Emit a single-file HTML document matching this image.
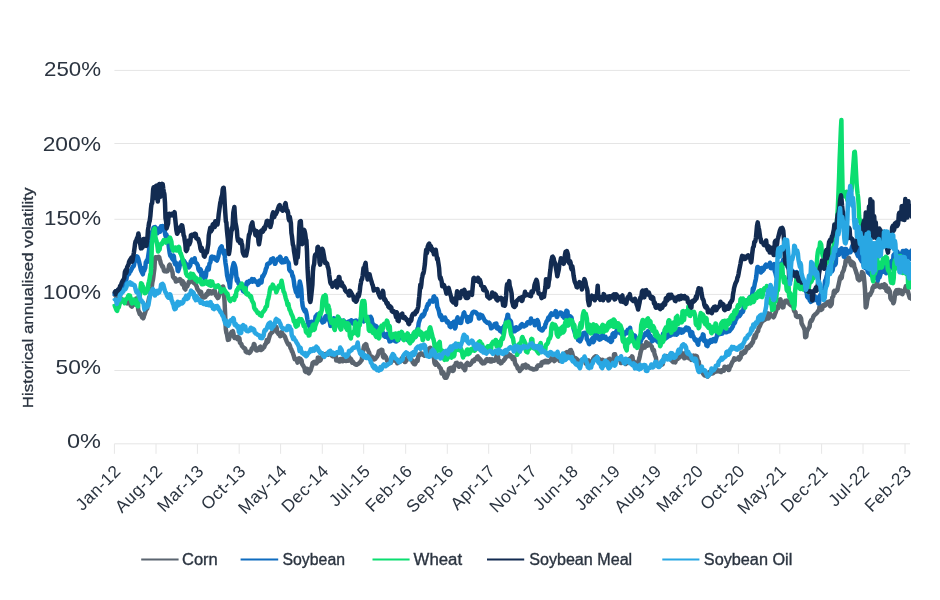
<!DOCTYPE html>
<html><head><meta charset="utf-8"><title>Historical annualised volatility</title>
<style>
html,body{margin:0;padding:0;background:#fff;}
body{width:940px;height:600px;overflow:hidden;font-family:"Liberation Sans",sans-serif;}
svg{display:block;transform:translateZ(0);will-change:transform}
text{font-family:"Liberation Sans",sans-serif;fill:#2b3440;}
.yl{font-size:20.4px;text-anchor:end;}
.xl{font-size:17.3px;text-anchor:end;letter-spacing:0.5px;}
.lg{font-size:16px;stroke:#2b3440;stroke-width:0.35px;}
.yt{font-size:15px;text-anchor:middle;stroke:#2b3440;stroke-width:0.3px;}
.s{fill:none;stroke-width:4.5;stroke-linejoin:round;stroke-linecap:butt;}
</style></head><body>
<svg width="940" height="600" viewBox="0 0 940 600">
<rect width="940" height="600" fill="#ffffff"/>

<line x1="114.4" x2="910" y1="70.4" y2="70.4" stroke="#e5e5e5" stroke-width="1"/>
<text class="yl" x="101.0" y="76.0" textLength="57" lengthAdjust="spacingAndGlyphs">250%</text>
<line x1="114.4" x2="910" y1="143.5" y2="143.5" stroke="#e5e5e5" stroke-width="1"/>
<text class="yl" x="101.0" y="150.5" textLength="58.3" lengthAdjust="spacingAndGlyphs">200%</text>
<line x1="114.4" x2="910" y1="219.3" y2="219.3" stroke="#e5e5e5" stroke-width="1"/>
<text class="yl" x="101.0" y="224.9" textLength="57" lengthAdjust="spacingAndGlyphs">150%</text>
<line x1="114.4" x2="910" y1="294.4" y2="294.4" stroke="#e5e5e5" stroke-width="1"/>
<text class="yl" x="101.0" y="299.4" textLength="58.3" lengthAdjust="spacingAndGlyphs">100%</text>
<line x1="114.4" x2="910" y1="370.5" y2="370.5" stroke="#e5e5e5" stroke-width="1"/>
<text class="yl" x="101.0" y="373.8" textLength="45.5" lengthAdjust="spacingAndGlyphs">50%</text>
<line x1="114.4" x2="910" y1="443.8" y2="443.8" stroke="#e5e5e5" stroke-width="1"/>
<text class="yl" x="101.0" y="448.3" textLength="34" lengthAdjust="spacingAndGlyphs">0%</text>
<line x1="114.4" x2="114.4" y1="443.8" y2="453.8" stroke="#e6e6e6" stroke-width="1"/>
<text class="xl" transform="translate(122.0,472.1) rotate(-45)">Jan-12</text>
<line x1="156.0" x2="156.0" y1="443.8" y2="453.8" stroke="#e6e6e6" stroke-width="1"/>
<text class="xl" transform="translate(163.6,472.1) rotate(-45)">Aug-12</text>
<line x1="197.4" x2="197.4" y1="443.8" y2="453.8" stroke="#e6e6e6" stroke-width="1"/>
<text class="xl" transform="translate(205.0,472.1) rotate(-45)">Mar-13</text>
<line x1="239.2" x2="239.2" y1="443.8" y2="453.8" stroke="#e6e6e6" stroke-width="1"/>
<text class="xl" transform="translate(246.8,472.1) rotate(-45)">Oct-13</text>
<line x1="280.6" x2="280.6" y1="443.8" y2="453.8" stroke="#e6e6e6" stroke-width="1"/>
<text class="xl" transform="translate(288.2,472.1) rotate(-45)">May-14</text>
<line x1="322.3" x2="322.3" y1="443.8" y2="453.8" stroke="#e6e6e6" stroke-width="1"/>
<text class="xl" transform="translate(329.9,472.1) rotate(-45)">Dec-14</text>
<line x1="363.7" x2="363.7" y1="443.8" y2="453.8" stroke="#e6e6e6" stroke-width="1"/>
<text class="xl" transform="translate(371.3,472.1) rotate(-45)">Jul-15</text>
<line x1="405.7" x2="405.7" y1="443.8" y2="453.8" stroke="#e6e6e6" stroke-width="1"/>
<text class="xl" transform="translate(413.3,472.1) rotate(-45)">Feb-16</text>
<line x1="447.3" x2="447.3" y1="443.8" y2="453.8" stroke="#e6e6e6" stroke-width="1"/>
<text class="xl" transform="translate(454.9,472.1) rotate(-45)">Sep-16</text>
<line x1="488.7" x2="488.7" y1="443.8" y2="453.8" stroke="#e6e6e6" stroke-width="1"/>
<text class="xl" transform="translate(496.3,472.1) rotate(-45)">Apr-17</text>
<line x1="530.5" x2="530.5" y1="443.8" y2="453.8" stroke="#e6e6e6" stroke-width="1"/>
<text class="xl" transform="translate(538.1,472.1) rotate(-45)">Nov-17</text>
<line x1="571.9" x2="571.9" y1="443.8" y2="453.8" stroke="#e6e6e6" stroke-width="1"/>
<text class="xl" transform="translate(579.5,472.1) rotate(-45)">Jun-18</text>
<line x1="613.7" x2="613.7" y1="443.8" y2="453.8" stroke="#e6e6e6" stroke-width="1"/>
<text class="xl" transform="translate(621.3,472.1) rotate(-45)">Jan-19</text>
<line x1="655.1" x2="655.1" y1="443.8" y2="453.8" stroke="#e6e6e6" stroke-width="1"/>
<text class="xl" transform="translate(662.7,472.1) rotate(-45)">Aug-19</text>
<line x1="696.7" x2="696.7" y1="443.8" y2="453.8" stroke="#e6e6e6" stroke-width="1"/>
<text class="xl" transform="translate(704.3,472.1) rotate(-45)">Mar-20</text>
<line x1="738.4" x2="738.4" y1="443.8" y2="453.8" stroke="#e6e6e6" stroke-width="1"/>
<text class="xl" transform="translate(746.0,472.1) rotate(-45)">Oct-20</text>
<line x1="779.8" x2="779.8" y1="443.8" y2="453.8" stroke="#e6e6e6" stroke-width="1"/>
<text class="xl" transform="translate(787.4,472.1) rotate(-45)">May-21</text>
<line x1="821.6" x2="821.6" y1="443.8" y2="453.8" stroke="#e6e6e6" stroke-width="1"/>
<text class="xl" transform="translate(829.2,472.1) rotate(-45)">Dec-21</text>
<line x1="863.0" x2="863.0" y1="443.8" y2="453.8" stroke="#e6e6e6" stroke-width="1"/>
<text class="xl" transform="translate(870.6,472.1) rotate(-45)">Jul-22</text>
<line x1="905.0" x2="905.0" y1="443.8" y2="453.8" stroke="#e6e6e6" stroke-width="1"/>
<text class="xl" transform="translate(912.6,472.1) rotate(-45)">Feb-23</text>
<text class="yt" transform="translate(33.2,297.9) rotate(-90)" textLength="220.5" lengthAdjust="spacingAndGlyphs">Historical annualised volatility</text>
<defs><clipPath id="c"><rect x="112.4" y="60" width="798.6" height="390"/></clipPath></defs>
<g clip-path="url(#c)">
<path class="s" stroke="#5b6570" d="M114.0,294.0 L114.7,294.7 L115.3,295.1 L115.9,296.2 L116.6,296.6 L117.1,295.2 L117.7,295.5 L118.2,295.7 L119.0,295.8 L119.8,295.4 L120.3,297.9 L120.8,298.1 L121.3,300.7 L121.9,300.9 L122.4,301.2 L122.9,299.7 L123.4,299.9 L123.9,300.2 L124.4,300.4 L125.0,301.7 L125.7,302.0 L126.3,302.7 L127.0,303.3 L127.5,301.6 L128.0,302.1 L128.5,302.6 L129.0,303.1 L129.6,303.2 L130.3,303.9 L130.8,305.6 L131.4,306.2 L131.9,306.7 L132.4,304.6 L132.9,305.1 L133.7,303.1 L134.2,304.7 L134.7,303.9 L135.2,303.1 L135.7,302.2 L136.2,298.5 L136.7,299.9 L137.2,301.2 L137.7,302.5 L138.2,309.8 L138.7,311.1 L139.2,312.5 L139.7,314.0 L140.3,313.2 L141.0,315.2 L141.5,315.9 L142.0,317.4 L142.5,317.4 L143.1,318.3 L143.6,317.5 L144.1,315.5 L144.6,314.3 L145.1,312.8 L145.6,311.2 L146.4,307.7 L147.2,308.8 L147.7,305.0 L148.2,302.5 L148.7,300.0 L149.2,297.5 L149.7,296.9 L150.2,294.4 L151.0,289.5 L151.8,287.1 L152.3,282.6 L152.9,280.0 L153.4,276.4 L153.9,272.3 L154.4,268.7 L154.9,259.3 L155.4,257.3 L155.9,257.3 L156.4,257.3 L156.9,258.2 L157.5,258.2 L158.0,258.2 L158.7,256.8 L159.3,257.4 L159.8,260.1 L160.3,261.1 L160.8,263.5 L161.3,264.5 L161.8,265.5 L162.3,266.8 L162.8,266.2 L163.3,267.7 L164.0,270.7 L164.6,271.2 L165.1,270.4 L165.6,270.7 L166.1,271.0 L166.6,271.4 L167.4,271.2 L167.9,270.2 L168.4,269.7 L169.1,265.4 L169.7,264.7 L170.5,267.3 L171.0,267.9 L171.5,269.4 L172.0,270.9 L172.5,272.4 L173.0,276.7 L173.5,277.4 L174.0,278.0 L174.5,278.7 L175.3,278.4 L175.8,281.5 L176.4,281.3 L176.9,280.8 L177.4,280.7 L177.9,280.2 L178.4,280.7 L178.9,280.2 L179.4,279.7 L179.9,279.2 L180.6,279.7 L181.2,281.0 L181.7,283.3 L182.2,284.3 L182.7,281.3 L183.3,282.2 L183.8,282.9 L184.3,288.1 L184.9,288.8 L185.4,289.5 L185.9,285.2 L186.4,285.3 L187.2,286.4 L187.7,285.1 L188.3,283.5 L188.8,281.9 L189.6,282.5 L190.3,277.9 L190.9,276.6 L191.6,276.8 L192.2,277.6 L192.7,281.6 L193.3,282.3 L193.8,283.0 L194.3,282.2 L194.9,283.3 L195.4,284.3 L196.1,285.3 L196.7,286.6 L197.4,289.0 L198.0,289.9 L198.5,290.4 L199.0,291.1 L199.7,292.9 L200.3,293.9 L201.1,291.8 L201.8,295.8 L202.4,297.1 L202.9,297.4 L203.5,297.2 L204.0,296.8 L204.5,297.5 L205.1,297.1 L205.6,296.8 L206.1,294.5 L206.6,293.8 L207.1,294.9 L207.6,294.2 L208.4,291.0 L209.2,293.6 L210.0,291.2 L210.5,292.0 L211.1,292.7 L211.6,293.4 L212.1,291.7 L212.6,291.4 L213.1,291.3 L213.6,290.9 L214.1,290.6 L214.6,290.3 L215.4,293.6 L215.9,295.3 L216.5,296.0 L217.0,296.7 L217.7,298.1 L218.3,297.8 L218.8,296.3 L219.4,294.9 L219.9,293.4 L220.4,291.5 L221.0,290.0 L221.5,288.4 L222.0,288.2 L222.6,286.6 L223.1,286.5 L223.6,289.2 L224.1,294.9 L224.6,302.7 L225.1,313.5 L225.8,329.1 L226.4,332.9 L226.9,334.0 L227.4,337.0 L227.9,339.9 L228.4,338.9 L228.9,339.7 L229.4,337.7 L229.9,335.7 L230.4,334.5 L231.2,332.7 L231.7,331.8 L232.2,332.0 L232.9,331.2 L233.5,333.8 L234.0,337.0 L234.5,337.9 L235.2,336.8 L235.8,337.9 L236.3,337.5 L236.9,338.4 L237.4,339.0 L237.9,336.8 L238.4,337.3 L238.9,337.8 L239.4,338.3 L239.9,342.6 L240.4,343.1 L240.9,343.6 L241.4,344.1 L241.9,346.0 L242.4,346.5 L242.9,347.0 L243.4,347.4 L244.2,348.5 L244.7,348.3 L245.2,348.6 L245.7,351.5 L246.2,351.9 L246.7,352.2 L247.2,352.5 L247.7,351.6 L248.3,352.0 L248.8,352.3 L249.3,353.0 L249.9,352.5 L250.4,352.0 L251.2,350.5 L251.7,348.6 L252.2,348.1 L252.7,347.6 L253.2,347.1 L253.9,344.0 L254.5,344.5 L255.0,348.6 L255.5,349.3 L256.0,350.0 L256.5,350.6 L257.2,350.6 L257.8,349.9 L258.3,348.5 L258.8,348.0 L259.3,347.6 L259.9,347.1 L260.4,346.7 L260.9,350.1 L261.4,349.8 L261.9,349.4 L262.4,349.1 L262.9,348.2 L263.4,347.8 L263.9,347.3 L264.4,346.8 L264.9,344.8 L265.5,344.2 L266.0,343.7 L266.8,340.1 L267.5,342.1 L268.1,341.3 L268.9,338.5 L269.6,336.2 L270.2,334.3 L271.0,333.4 L271.5,332.7 L272.1,332.3 L272.6,332.0 L273.1,327.5 L273.6,327.1 L274.1,326.8 L274.6,326.5 L275.1,328.9 L275.6,328.6 L276.1,326.9 L276.6,327.6 L277.1,332.1 L277.6,332.8 L278.1,333.4 L278.6,334.1 L279.1,334.4 L279.6,334.3 L280.1,336.2 L280.6,336.1 L281.1,332.3 L281.6,332.1 L282.1,333.1 L282.7,334.0 L283.2,334.9 L283.7,335.1 L284.2,335.9 L284.7,336.4 L285.2,337.3 L285.7,339.1 L286.2,340.1 L286.7,341.4 L287.2,342.4 L287.7,343.4 L288.2,344.3 L289.0,343.9 L289.8,345.3 L290.6,348.3 L291.3,349.3 L291.9,351.2 L292.4,351.8 L292.9,353.3 L293.4,354.8 L293.9,356.3 L294.7,359.2 L295.2,358.5 L295.7,359.0 L296.2,359.5 L296.7,360.0 L297.5,362.6 L298.2,358.6 L298.8,358.4 L299.6,361.5 L300.1,358.6 L300.6,359.3 L301.1,359.9 L301.6,360.6 L302.1,364.1 L302.7,364.9 L303.2,365.6 L303.9,366.9 L304.5,367.8 L305.0,371.1 L305.5,371.8 L306.0,370.0 L306.5,370.5 L307.2,368.8 L307.8,369.5 L308.3,372.9 L308.8,373.4 L309.3,372.8 L309.8,371.5 L310.5,370.7 L311.1,368.9 L311.6,367.0 L312.1,365.8 L312.6,362.9 L313.1,362.6 L313.6,362.2 L314.1,361.9 L314.6,363.2 L315.2,362.8 L315.7,362.1 L316.2,363.5 L316.8,362.8 L317.3,362.1 L317.8,357.7 L318.3,357.5 L318.8,360.9 L319.3,361.0 L320.0,359.9 L320.6,360.1 L321.3,358.1 L321.9,357.0 L322.4,355.9 L323.0,355.0 L323.5,354.1 L324.0,355.0 L324.5,354.7 L325.0,354.3 L325.5,354.0 L326.0,354.1 L326.6,353.7 L327.1,353.5 L327.6,353.9 L328.1,354.6 L328.8,352.7 L329.4,353.5 L329.9,353.7 L330.4,354.1 L330.9,354.3 L331.4,354.6 L332.1,356.0 L332.7,356.3 L333.2,355.0 L333.7,355.2 L334.2,354.8 L334.7,354.8 L335.2,354.8 L335.7,354.8 L336.2,360.5 L336.8,360.5 L337.3,360.5 L337.8,359.5 L338.3,359.6 L339.0,361.3 L339.6,361.5 L340.3,358.9 L340.9,359.0 L341.4,360.9 L342.0,361.1 L342.5,361.2 L343.0,358.4 L343.5,358.5 L344.0,358.6 L344.5,358.8 L345.0,360.8 L345.5,360.9 L346.0,361.0 L346.5,360.9 L347.3,356.3 L348.0,360.7 L348.6,360.6 L349.4,357.3 L349.9,358.6 L350.4,359.0 L351.2,359.2 L352.0,362.6 L352.5,361.3 L353.0,361.8 L353.5,362.8 L354.0,363.1 L354.5,363.8 L355.0,364.1 L355.5,364.4 L356.0,364.8 L356.8,364.7 L357.3,364.1 L357.9,363.9 L358.4,363.7 L358.9,363.3 L359.4,362.9 L359.9,362.4 L360.4,361.9 L361.1,360.8 L361.7,360.2 L362.2,356.2 L362.8,353.0 L363.3,349.8 L363.8,346.9 L364.3,345.4 L364.8,345.2 L365.3,344.7 L365.8,344.2 L366.3,344.6 L367.1,348.7 L367.8,349.4 L368.4,351.1 L368.9,351.9 L369.4,353.4 L369.9,356.5 L370.5,357.1 L371.0,357.7 L371.7,356.5 L372.3,357.1 L372.8,358.4 L373.4,358.9 L373.9,359.5 L374.4,359.5 L375.0,359.1 L375.5,358.7 L376.0,357.4 L376.5,357.1 L377.0,356.8 L377.5,355.8 L378.3,353.9 L378.8,351.4 L379.3,350.9 L379.8,350.8 L380.3,350.6 L380.8,350.1 L381.3,349.9 L381.8,349.7 L382.3,350.1 L383.0,356.5 L383.6,357.4 L384.1,354.8 L384.6,355.5 L385.3,356.4 L385.9,357.0 L386.7,359.0 L387.2,360.9 L387.7,361.4 L388.2,361.8 L388.7,361.9 L389.5,363.2 L390.2,362.5 L390.8,362.7 L391.3,358.6 L391.8,358.7 L392.3,358.7 L392.8,358.6 L393.6,359.6 L394.3,360.5 L394.9,360.4 L395.4,360.8 L396.0,360.6 L396.5,361.0 L397.3,363.3 L397.8,361.1 L398.4,361.5 L398.9,361.9 L399.4,361.1 L399.9,361.5 L400.4,361.4 L400.9,361.3 L401.6,358.5 L402.2,358.3 L402.7,360.0 L403.2,359.9 L403.7,359.7 L404.2,359.6 L404.9,362.0 L405.5,361.7 L406.0,360.6 L406.5,360.4 L407.0,358.3 L407.5,358.1 L408.0,356.6 L408.5,356.9 L409.0,355.3 L409.5,355.6 L410.3,357.8 L410.8,359.1 L411.3,359.3 L412.1,360.3 L412.8,362.5 L413.4,362.7 L413.9,364.0 L414.5,364.1 L415.0,364.3 L415.8,362.7 L416.3,360.5 L416.8,360.0 L417.6,360.8 L418.3,356.2 L418.9,354.5 L419.4,355.3 L420.0,354.0 L420.5,354.1 L421.0,353.4 L421.5,353.6 L422.0,353.8 L422.5,353.9 L423.0,354.7 L423.5,355.0 L424.0,355.3 L424.5,355.7 L425.0,354.4 L425.5,354.7 L426.0,355.1 L426.5,353.6 L427.3,350.8 L428.0,351.1 L428.6,349.1 L429.1,349.6 L429.7,348.0 L430.2,347.8 L430.9,348.2 L431.5,350.8 L432.0,354.0 L432.6,355.4 L433.1,356.8 L433.9,357.4 L434.4,362.6 L435.0,364.0 L435.5,364.7 L436.0,362.3 L436.5,363.0 L437.0,363.7 L437.5,364.3 L438.2,365.2 L438.8,365.8 L439.3,367.2 L439.8,367.7 L440.3,368.2 L440.8,368.7 L441.6,373.4 L442.1,371.3 L442.6,371.8 L443.1,372.3 L443.6,372.8 L444.3,376.7 L444.9,377.7 L445.4,376.2 L446.0,377.1 L446.5,377.6 L447.0,376.2 L447.5,375.1 L448.0,373.9 L448.5,372.8 L449.0,368.7 L449.6,368.4 L450.1,368.0 L450.6,368.5 L451.1,368.2 L451.6,367.8 L452.1,367.5 L452.6,371.0 L453.2,370.7 L453.7,370.3 L454.2,366.0 L454.8,365.7 L455.3,365.4 L455.8,363.2 L456.4,363.0 L456.9,362.8 L457.6,364.9 L458.2,364.7 L459.0,366.8 L459.7,365.1 L460.3,364.9 L460.8,363.8 L461.4,364.4 L461.9,365.3 L462.4,366.5 L463.0,367.4 L463.5,368.3 L464.3,367.2 L464.8,370.2 L465.3,369.3 L465.8,365.1 L466.3,364.3 L466.8,363.5 L467.3,363.0 L467.8,364.5 L468.4,364.3 L468.9,364.1 L469.4,365.0 L469.9,364.8 L470.4,364.4 L470.9,363.9 L471.4,363.0 L471.9,362.5 L472.6,360.8 L473.2,360.3 L473.7,361.2 L474.2,361.1 L474.7,359.3 L475.2,359.2 L475.9,358.4 L476.5,358.1 L477.2,356.6 L477.8,356.4 L478.6,359.5 L479.1,358.0 L479.6,358.5 L480.1,359.0 L480.6,359.5 L481.1,361.9 L481.6,362.4 L482.1,362.9 L482.6,363.4 L483.1,361.6 L483.6,362.1 L484.1,362.6 L484.6,363.1 L485.1,362.0 L485.6,361.5 L486.3,359.7 L486.9,359.1 L487.6,361.0 L488.2,360.5 L488.7,359.5 L489.3,359.3 L489.8,359.2 L490.3,361.5 L490.9,361.3 L491.4,361.4 L492.1,359.4 L492.7,359.6 L493.2,360.5 L493.8,360.7 L494.3,360.7 L494.8,360.0 L495.4,359.8 L495.9,359.6 L496.6,355.0 L497.2,354.9 L498.0,356.8 L498.5,361.8 L499.0,362.0 L499.5,360.8 L500.0,361.0 L500.5,363.4 L501.1,363.2 L501.6,363.0 L502.1,361.6 L502.6,361.4 L503.1,361.2 L503.6,360.7 L504.1,359.7 L504.7,359.2 L505.2,358.6 L505.7,356.0 L506.2,355.5 L506.7,356.7 L507.2,356.3 L508.0,354.9 L508.5,354.6 L509.0,354.3 L509.5,355.3 L510.0,356.3 L510.5,355.0 L511.0,356.0 L511.5,356.3 L512.0,356.6 L512.5,359.1 L513.0,359.4 L513.7,357.1 L514.3,358.1 L515.0,362.8 L515.6,364.4 L516.1,364.9 L516.7,365.7 L517.2,366.5 L517.7,368.4 L518.2,368.6 L518.7,369.1 L519.2,368.5 L519.7,371.0 L520.2,370.4 L520.7,369.7 L521.2,369.4 L521.7,368.2 L522.2,368.4 L522.7,365.4 L523.2,365.6 L523.7,365.7 L524.2,365.7 L524.9,365.2 L525.5,364.7 L526.3,367.7 L526.8,365.8 L527.4,365.8 L527.9,365.9 L528.6,367.4 L529.2,367.6 L529.7,367.9 L530.3,368.2 L530.8,368.5 L531.6,368.6 L532.3,368.9 L532.9,369.3 L533.4,369.6 L533.9,369.5 L534.4,369.3 L534.9,369.1 L535.4,369.0 L536.0,368.8 L536.5,369.0 L537.0,366.6 L537.5,366.8 L538.0,365.6 L538.5,365.8 L539.0,365.8 L539.5,365.3 L540.3,365.1 L541.1,365.5 L541.6,362.6 L542.1,362.1 L542.6,362.0 L543.1,361.8 L543.9,362.3 L544.4,361.1 L545.0,361.0 L545.5,360.8 L546.0,362.2 L546.5,362.1 L547.0,361.0 L547.5,360.9 L548.0,362.3 L548.6,361.9 L549.1,361.6 L549.9,360.9 L550.7,359.5 L551.2,358.4 L551.8,358.6 L552.3,358.8 L553.0,359.9 L553.6,360.1 L554.3,361.0 L554.9,360.5 L555.7,358.9 L556.4,356.8 L557.0,356.4 L557.5,358.8 L558.0,358.9 L558.5,359.1 L559.0,359.3 L559.5,360.8 L560.0,361.0 L560.5,360.5 L561.0,360.0 L561.5,361.2 L562.0,360.7 L562.5,357.7 L563.1,357.1 L563.6,356.4 L564.1,357.1 L564.7,356.4 L565.2,355.7 L565.7,352.9 L566.3,352.4 L566.8,352.1 L567.5,354.5 L568.1,354.0 L568.8,354.1 L569.4,353.7 L569.9,350.5 L570.4,350.2 L570.9,350.0 L571.4,351.5 L571.9,352.0 L572.4,354.0 L572.9,356.0 L573.4,356.8 L574.2,360.1 L575.0,359.2 L575.5,358.0 L576.0,358.4 L576.5,358.8 L577.0,359.2 L577.7,361.1 L578.3,361.3 L578.8,361.6 L579.4,361.4 L579.9,361.3 L580.4,360.7 L580.9,360.5 L581.4,360.4 L581.9,360.2 L582.6,359.7 L583.2,359.4 L583.7,359.8 L584.2,359.8 L584.7,359.8 L585.2,359.9 L585.7,363.6 L586.2,363.7 L586.7,363.8 L587.2,363.9 L587.7,360.3 L588.3,360.4 L588.8,360.5 L589.5,365.5 L590.1,365.6 L590.6,364.1 L591.2,363.8 L591.7,363.5 L592.2,362.2 L592.7,362.0 L593.2,358.5 L593.7,358.3 L594.2,357.5 L594.7,357.2 L595.5,356.4 L596.2,357.2 L596.8,356.7 L597.6,357.8 L598.4,359.0 L599.2,359.1 L600.0,361.8 L600.8,360.8 L601.3,360.2 L601.9,360.0 L602.4,359.8 L602.9,360.5 L603.4,360.6 L603.9,360.7 L604.4,360.9 L604.9,362.5 L605.4,362.6 L605.9,361.1 L606.5,360.9 L607.0,360.8 L607.5,361.6 L608.0,361.4 L608.5,359.3 L609.1,359.1 L609.6,358.9 L610.3,361.4 L610.9,361.1 L611.4,360.0 L612.0,359.8 L612.5,359.6 L613.0,361.9 L613.5,361.8 L614.0,354.4 L614.6,354.2 L615.1,354.3 L615.9,358.7 L616.4,358.4 L616.9,359.4 L617.4,359.4 L617.9,359.3 L618.6,359.3 L619.2,359.1 L619.9,360.0 L620.5,359.8 L621.0,363.1 L621.5,362.9 L622.0,361.6 L622.6,361.4 L623.1,361.5 L623.9,360.3 L624.4,361.4 L624.9,362.7 L625.7,364.0 L626.2,363.2 L626.8,362.9 L627.3,362.5 L628.0,359.7 L628.6,359.3 L629.3,359.2 L629.9,358.8 L630.4,358.2 L631.0,357.8 L631.5,358.5 L632.0,356.4 L632.5,357.1 L633.3,363.9 L633.8,361.4 L634.4,362.0 L634.9,362.6 L635.4,364.0 L636.0,364.6 L636.5,365.1 L637.3,366.2 L638.0,364.2 L638.6,360.7 L639.3,358.5 L639.9,355.9 L640.6,352.3 L641.2,350.4 L642.0,345.1 L642.5,348.3 L643.0,348.0 L643.5,347.7 L644.0,347.3 L644.8,347.5 L645.6,345.0 L646.4,342.1 L646.9,345.3 L647.4,345.6 L648.2,343.4 L649.0,344.6 L649.5,343.8 L650.0,344.3 L650.5,345.1 L651.0,345.9 L651.8,346.6 L652.5,349.4 L653.1,350.7 L653.9,350.2 L654.4,353.2 L654.9,355.2 L655.4,356.4 L655.9,357.4 L656.4,362.3 L656.9,363.3 L657.4,364.9 L657.9,365.9 L658.4,365.3 L658.9,365.5 L659.4,365.7 L659.9,365.8 L660.4,364.7 L660.9,364.9 L661.4,364.0 L661.9,362.8 L662.7,364.3 L663.2,360.0 L663.7,358.8 L664.2,357.8 L664.7,357.2 L665.2,357.7 L665.7,357.0 L666.5,356.1 L667.0,357.6 L667.6,357.8 L668.1,358.0 L668.7,356.4 L669.4,356.6 L670.2,355.7 L670.7,354.2 L671.2,354.7 L671.7,360.7 L672.2,361.2 L672.7,361.7 L673.2,362.2 L673.8,360.2 L674.5,360.6 L675.3,362.4 L676.1,359.7 L676.6,359.3 L677.2,359.2 L677.7,359.0 L678.3,358.1 L679.0,357.8 L679.5,357.4 L680.0,356.9 L680.5,354.3 L681.0,353.8 L681.5,353.3 L682.0,352.8 L682.8,356.4 L683.6,356.7 L684.2,358.3 L684.9,358.1 L685.7,352.9 L686.5,355.6 L687.0,356.3 L687.5,356.8 L688.0,357.3 L688.5,357.5 L689.1,358.4 L689.8,358.6 L690.3,357.3 L690.8,357.4 L691.3,359.9 L691.8,359.8 L692.3,359.6 L692.8,359.4 L693.6,355.6 L694.2,356.5 L694.9,356.7 L695.4,355.8 L695.9,355.9 L696.4,356.1 L696.9,356.3 L697.4,359.0 L697.9,360.7 L698.7,361.4 L699.2,365.4 L699.7,366.1 L700.2,366.7 L700.7,367.4 L701.2,368.4 L701.8,369.1 L702.3,369.8 L702.8,373.3 L703.3,374.0 L703.8,374.6 L704.3,375.3 L704.9,374.5 L705.6,375.0 L706.1,375.6 L706.6,376.0 L707.1,376.3 L707.6,376.6 L708.1,373.4 L708.6,372.9 L709.1,372.4 L709.6,371.9 L710.1,374.1 L710.7,373.6 L711.2,373.2 L711.7,373.6 L712.2,373.4 L712.7,373.3 L713.2,373.1 L713.8,372.5 L714.5,372.1 L715.0,369.6 L715.6,369.3 L716.1,368.9 L716.6,371.5 L717.2,371.2 L717.7,371.0 L718.3,370.7 L719.0,370.5 L719.5,371.5 L720.0,371.3 L720.5,371.7 L721.0,372.0 L721.5,370.2 L722.1,370.5 L722.6,370.9 L723.2,370.5 L723.9,370.7 L724.5,366.7 L725.2,366.9 L725.7,368.9 L726.2,368.8 L726.7,368.2 L727.2,367.7 L727.7,367.2 L728.2,366.7 L728.7,370.1 L729.2,369.4 L729.7,367.5 L730.3,366.6 L730.8,365.8 L731.3,364.1 L731.8,363.3 L732.3,361.9 L732.9,361.2 L733.4,360.4 L734.2,358.4 L735.0,359.2 L735.5,359.6 L736.0,359.2 L736.5,358.9 L737.0,358.6 L737.5,358.5 L738.1,358.1 L738.6,357.3 L739.1,359.6 L739.6,358.9 L740.1,358.3 L740.6,357.6 L741.4,352.6 L742.2,354.5 L742.7,353.3 L743.2,353.0 L744.0,351.4 L744.6,352.8 L745.3,352.2 L745.8,350.5 L746.3,350.0 L746.8,347.1 L747.4,347.0 L747.9,347.2 L748.7,347.8 L749.5,345.8 L750.0,345.9 L750.5,344.5 L751.0,345.5 L751.6,344.0 L752.1,342.6 L752.6,342.8 L753.1,341.5 L753.6,338.6 L754.2,337.0 L754.7,335.4 L755.3,337.8 L756.0,335.8 L756.6,332.9 L757.3,331.8 L758.1,331.2 L758.6,328.2 L759.1,327.4 L759.6,326.4 L760.1,325.4 L760.7,323.9 L761.4,322.6 L762.2,319.8 L762.7,321.1 L763.2,320.4 L763.7,319.7 L764.2,319.1 L764.8,319.7 L765.5,319.2 L766.1,317.4 L766.8,317.0 L767.3,313.7 L767.8,313.3 L768.3,318.5 L768.8,318.3 L769.4,314.0 L770.1,313.7 L770.6,315.5 L771.2,315.5 L771.7,316.1 L772.2,315.6 L772.7,316.1 L773.5,317.3 L774.1,316.4 L774.8,314.5 L775.3,313.2 L775.9,311.6 L776.4,310.0 L776.9,308.3 L777.4,306.5 L778.0,308.4 L778.7,306.0 L779.2,300.5 L779.7,299.6 L780.5,299.3 L781.0,302.4 L781.6,302.9 L782.1,303.5 L782.7,307.4 L783.4,307.1 L783.9,303.2 L784.4,302.4 L784.9,301.6 L785.4,300.8 L785.9,301.3 L786.4,302.3 L787.0,300.6 L787.7,301.2 L788.2,302.1 L788.7,302.6 L789.5,304.1 L790.0,304.5 L790.6,305.0 L791.1,305.5 L791.6,302.2 L792.1,302.9 L792.6,304.4 L793.1,305.9 L793.9,310.2 L794.4,311.4 L795.0,311.8 L795.5,312.1 L796.0,316.0 L796.5,316.3 L797.0,316.7 L797.5,317.0 L798.0,316.0 L798.6,316.4 L799.1,316.7 L799.6,316.1 L800.1,316.6 L800.6,317.6 L801.1,318.6 L801.6,323.5 L802.2,324.6 L802.7,325.6 L803.2,326.3 L803.7,327.5 L804.2,328.8 L804.7,330.0 L805.2,337.3 L805.8,337.0 L806.3,336.6 L806.9,330.7 L807.6,330.3 L808.1,329.0 L808.6,328.3 L809.1,327.5 L809.6,326.8 L810.1,322.5 L810.7,321.4 L811.2,320.3 L811.7,320.8 L812.3,319.6 L812.8,318.3 L813.3,316.8 L813.8,315.6 L814.3,315.3 L814.9,314.7 L815.4,314.2 L815.9,313.9 L816.4,313.4 L816.9,312.9 L817.4,312.4 L817.9,311.2 L818.5,310.8 L819.0,310.4 L819.5,306.6 L820.1,306.2 L820.6,305.8 L821.1,309.9 L821.7,309.5 L822.2,309.1 L822.7,305.8 L823.2,305.5 L823.7,305.1 L824.2,304.7 L824.7,305.7 L825.3,305.3 L825.8,304.9 L826.3,302.9 L826.8,302.5 L827.4,302.3 L828.1,301.8 L828.6,302.3 L829.2,301.9 L829.7,301.5 L830.2,306.3 L830.7,305.6 L831.2,304.9 L831.7,304.2 L832.2,297.6 L832.8,296.9 L833.3,296.1 L833.8,291.7 L834.3,290.8 L834.8,293.1 L835.3,292.2 L835.8,291.3 L836.3,290.5 L836.8,290.9 L837.4,290.0 L837.9,287.8 L838.5,285.2 L839.2,282.1 L840.0,277.9 L840.8,276.3 L841.3,278.5 L841.8,277.3 L842.3,273.1 L842.8,272.1 L843.3,271.1 L843.8,270.1 L844.4,267.0 L845.1,265.6 L845.6,261.1 L846.1,259.3 L846.6,261.5 L847.2,259.6 L847.7,258.5 L848.3,257.6 L849.0,258.1 L849.5,260.6 L850.0,261.0 L850.6,263.6 L851.3,265.2 L851.9,261.7 L852.6,263.2 L853.2,262.8 L853.9,263.8 L854.4,267.3 L854.9,268.1 L855.4,269.8 L855.9,271.2 L856.5,273.3 L857.2,275.1 L857.8,279.0 L858.5,278.7 L859.1,280.3 L859.8,279.9 L860.6,278.3 L861.4,277.6 L861.9,272.1 L862.4,272.3 L862.9,273.3 L863.4,273.5 L863.9,277.3 L864.4,282.0 L865.0,289.6 L865.7,307.5 L866.2,306.9 L866.7,304.8 L867.2,300.6 L867.7,298.6 L868.2,296.6 L868.7,294.6 L869.5,295.3 L870.0,294.9 L870.5,293.9 L871.0,292.9 L871.6,291.9 L872.1,290.8 L872.6,288.0 L873.2,286.9 L873.7,286.1 L874.5,285.7 L875.0,286.8 L875.5,286.4 L876.3,285.2 L876.8,283.1 L877.3,282.8 L877.8,286.0 L878.3,286.1 L878.8,286.3 L879.3,286.4 L879.8,287.1 L880.3,287.3 L880.8,286.2 L881.3,286.6 L881.8,285.1 L882.4,285.7 L882.9,286.2 L883.4,287.0 L883.9,287.5 L884.4,284.3 L884.9,284.8 L885.4,285.1 L885.9,285.4 L886.4,290.8 L886.9,291.1 L887.4,291.4 L887.9,291.6 L888.4,288.5 L888.9,289.4 L889.4,290.4 L889.9,291.4 L890.4,298.1 L891.0,299.1 L891.5,300.0 L892.1,300.1 L892.8,301.2 L893.3,303.3 L893.9,302.0 L894.4,299.6 L895.2,292.6 L896.0,291.0 L896.5,290.2 L897.0,290.1 L897.5,293.5 L898.0,293.4 L898.8,290.0 L899.4,291.0 L900.1,290.9 L900.9,290.5 L901.4,293.7 L902.0,293.9 L902.5,294.1 L903.0,291.4 L903.5,291.6 L904.0,291.4 L904.5,291.3 L905.3,288.4 L905.8,286.3 L906.3,286.2 L906.8,290.2 L907.4,290.0 L907.9,291.3 L908.7,294.3 L909.2,296.2 L909.7,297.8 L910.5,297.0 L911.3,296.4 L911.5,298.7 L911.6,298.6 L911.8,298.5 L912.0,298.4"/>
<path class="s" stroke="#0f6cbf" d="M114.0,296.0 L114.7,292.6 L115.3,291.9 L115.8,292.5 L116.3,292.0 L116.9,291.3 L117.6,290.6 L118.4,293.6 L119.2,292.0 L119.7,290.9 L120.2,290.7 L120.7,288.3 L121.3,288.1 L121.8,287.8 L122.3,287.2 L122.9,285.8 L123.4,284.3 L123.9,280.7 L124.5,279.3 L125.0,277.9 L125.6,281.3 L126.3,280.0 L126.8,276.8 L127.3,275.8 L127.8,274.8 L128.3,273.8 L129.1,273.8 L129.9,271.3 L130.4,271.4 L130.9,270.4 L131.4,269.4 L131.9,268.4 L132.4,267.4 L132.9,266.4 L133.4,266.5 L133.9,265.5 L134.4,262.6 L134.9,261.6 L135.4,260.6 L135.9,259.6 L136.4,257.5 L137.0,256.4 L137.5,256.8 L138.3,258.7 L138.9,261.0 L139.6,264.1 L140.2,266.7 L140.9,269.9 L141.4,271.3 L141.9,272.3 L142.4,273.3 L142.9,274.3 L143.7,267.9 L144.2,270.6 L144.8,269.0 L145.3,267.7 L145.8,262.4 L146.4,261.3 L146.9,260.3 L147.4,261.9 L147.9,258.4 L148.4,254.9 L148.9,251.4 L149.7,245.6 L150.2,244.1 L150.7,241.1 L151.4,234.5 L152.0,231.9 L152.5,232.3 L153.0,230.3 L153.5,227.7 L154.0,227.5 L154.5,227.2 L155.0,227.0 L155.8,231.5 L156.6,229.9 L157.1,232.6 L157.6,233.0 L158.3,228.6 L158.9,229.1 L159.6,231.8 L160.2,231.7 L161.0,226.2 L161.5,227.3 L162.1,226.2 L162.6,226.0 L163.1,226.1 L163.6,227.4 L164.1,228.6 L164.6,230.1 L165.1,234.2 L165.6,236.1 L166.4,234.6 L167.1,236.7 L167.7,238.0 L168.4,243.7 L169.0,248.3 L169.7,253.1 L170.3,255.9 L170.8,255.3 L171.3,256.0 L171.8,258.0 L172.4,258.7 L172.9,259.5 L173.4,255.4 L173.9,256.4 L174.6,262.9 L175.2,264.2 L175.7,262.4 L176.2,263.6 L176.7,265.1 L177.2,266.6 L177.7,270.8 L178.2,271.1 L178.7,269.6 L179.2,268.1 L179.9,264.4 L180.5,262.4 L181.2,263.5 L181.8,261.5 L182.6,259.6 L183.4,263.4 L184.1,261.0 L184.7,261.9 L185.2,262.9 L185.8,263.6 L186.3,264.3 L186.8,264.4 L187.3,265.0 L187.8,265.7 L188.3,265.5 L188.8,267.5 L189.3,266.8 L189.8,266.0 L190.3,265.3 L190.8,261.3 L191.4,260.5 L191.9,259.7 L192.4,260.9 L192.9,261.2 L193.4,261.4 L193.9,261.7 L194.7,258.2 L195.2,262.2 L195.8,262.5 L196.3,263.2 L196.8,263.6 L197.4,264.7 L197.9,265.8 L198.4,269.2 L198.9,270.2 L199.4,270.9 L199.9,271.6 L200.4,269.3 L200.9,269.9 L201.4,275.7 L201.9,276.3 L202.4,272.6 L202.9,272.9 L203.4,273.3 L203.9,273.6 L204.4,278.0 L204.9,278.4 L205.4,277.4 L205.9,276.0 L206.4,271.2 L206.9,269.9 L207.4,268.5 L207.9,267.2 L208.7,269.5 L209.5,263.5 L210.0,263.1 L210.5,261.7 L211.2,257.0 L211.8,256.6 L212.5,258.1 L213.1,257.7 L213.8,257.0 L214.4,257.1 L214.9,259.1 L215.4,259.4 L215.9,259.8 L216.4,260.1 L216.9,260.5 L217.4,259.4 L217.9,257.8 L218.4,256.3 L219.1,251.7 L219.7,249.9 L220.2,248.2 L220.7,247.6 L221.2,247.0 L221.7,246.3 L222.2,249.5 L222.7,250.9 L223.2,252.4 L223.7,253.8 L224.5,250.7 L225.0,258.7 L225.5,263.1 L226.3,267.9 L227.1,275.6 L227.6,277.3 L228.1,279.9 L228.6,280.9 L229.1,281.9 L229.9,287.5 L230.7,278.5 L231.2,277.3 L231.7,274.4 L232.2,269.4 L232.7,267.1 L233.2,265.1 L233.7,263.1 L234.2,263.9 L234.7,265.3 L235.4,267.7 L236.0,272.6 L236.8,280.7 L237.3,278.5 L237.8,280.5 L238.6,283.7 L239.1,283.0 L239.6,283.5 L240.1,287.6 L240.6,288.1 L241.1,286.4 L241.6,286.9 L242.1,287.3 L242.6,287.6 L243.1,291.1 L243.7,291.4 L244.2,291.7 L245.0,286.2 L245.8,287.5 L246.5,283.1 L247.1,282.1 L247.9,283.5 L248.6,282.1 L249.2,281.1 L249.7,281.8 L250.2,281.2 L250.7,281.0 L251.2,280.7 L252.0,279.0 L252.5,281.7 L253.0,281.5 L253.5,279.6 L254.0,279.3 L254.5,281.1 L255.0,281.3 L255.5,281.6 L256.0,281.8 L256.7,281.6 L257.3,282.0 L258.0,284.9 L258.6,284.6 L259.1,280.9 L259.7,280.6 L260.2,280.3 L260.9,282.7 L261.5,282.4 L262.3,276.3 L262.8,276.8 L263.4,275.7 L263.9,274.6 L264.4,273.7 L264.9,272.7 L265.4,270.9 L265.9,268.9 L266.7,267.4 L267.2,264.3 L267.7,264.0 L268.2,263.7 L268.7,263.3 L269.2,263.4 L269.8,263.1 L270.3,262.5 L271.1,259.3 L271.6,260.2 L272.1,259.5 L272.6,258.9 L273.1,258.3 L273.8,261.2 L274.4,261.0 L274.9,263.8 L275.4,263.6 L275.9,261.4 L276.4,261.1 L277.2,259.9 L277.9,258.8 L278.5,258.3 L279.3,259.5 L280.0,256.7 L280.6,257.4 L281.1,261.6 L281.6,262.3 L282.1,259.7 L282.7,260.4 L283.2,260.8 L283.7,262.2 L284.2,262.0 L284.9,261.9 L285.5,261.7 L286.0,258.2 L286.5,259.4 L287.0,260.5 L287.5,261.7 L288.2,262.1 L288.8,263.6 L289.3,269.8 L289.8,270.5 L290.3,271.1 L290.8,271.8 L291.6,271.9 L292.4,276.2 L292.9,275.8 L293.5,279.0 L294.0,282.2 L294.5,286.1 L295.0,288.1 L295.5,290.1 L296.0,292.1 L296.7,291.5 L297.3,294.1 L297.8,296.2 L298.3,294.4 L298.8,290.0 L299.3,285.6 L299.8,281.4 L300.3,283.6 L300.8,285.7 L301.3,289.0 L302.0,300.4 L302.6,305.6 L303.4,308.6 L304.1,310.1 L304.7,311.4 L305.2,309.6 L305.7,310.6 L306.2,312.2 L306.7,314.7 L307.4,319.3 L308.0,322.6 L308.5,324.4 L309.0,325.4 L309.5,326.4 L310.0,327.4 L310.8,328.6 L311.6,321.7 L312.1,323.9 L312.6,323.0 L313.4,323.0 L313.9,323.4 L314.5,322.2 L315.0,320.9 L315.5,316.7 L316.0,316.1 L316.5,315.4 L317.0,314.7 L317.5,315.8 L318.1,315.3 L318.6,316.4 L319.1,313.9 L319.7,314.9 L320.2,316.0 L320.7,319.7 L321.3,320.4 L321.8,320.8 L322.6,322.5 L323.1,321.1 L323.6,321.4 L324.1,321.6 L324.6,320.9 L325.3,316.8 L325.9,315.9 L326.7,315.9 L327.2,315.3 L327.7,316.3 L328.5,319.2 L329.2,320.5 L329.8,321.8 L330.5,325.9 L331.1,325.6 L331.6,322.0 L332.1,321.8 L332.6,320.5 L333.1,320.3 L333.9,318.3 L334.4,321.5 L334.9,321.3 L335.4,319.0 L335.9,318.8 L336.7,319.7 L337.2,319.9 L337.8,319.6 L338.3,319.8 L338.8,318.7 L339.3,319.2 L340.0,320.3 L340.6,320.9 L341.1,323.2 L341.6,323.7 L342.1,324.2 L342.6,324.4 L343.4,320.5 L343.9,321.3 L344.4,321.5 L344.9,321.8 L345.4,322.0 L345.9,324.7 L346.4,324.6 L346.9,324.5 L347.4,324.4 L348.2,322.7 L348.7,321.4 L349.3,321.3 L349.8,321.2 L350.3,322.8 L350.8,323.2 L351.3,320.3 L351.8,320.7 L352.3,321.0 L352.8,321.4 L353.3,323.6 L353.9,324.0 L354.4,323.9 L354.9,321.0 L355.5,320.8 L356.0,320.5 L356.5,324.8 L357.0,324.6 L357.5,323.1 L358.0,322.8 L358.5,322.3 L359.0,321.8 L359.7,322.0 L360.3,321.3 L361.0,317.8 L361.6,317.2 L362.4,320.6 L363.2,320.3 L363.7,321.4 L364.2,321.2 L364.7,317.5 L365.2,317.2 L365.7,318.1 L366.3,317.9 L366.8,317.6 L367.5,317.4 L368.1,317.1 L368.6,321.0 L369.1,320.7 L369.6,320.5 L370.1,320.5 L370.6,316.8 L371.2,317.9 L371.7,318.9 L372.2,322.7 L372.8,323.8 L373.3,324.8 L374.1,324.9 L374.8,327.1 L375.4,328.4 L375.9,325.9 L376.5,326.5 L377.0,327.0 L377.8,328.6 L378.5,329.9 L379.1,330.6 L379.6,331.8 L380.2,332.3 L380.7,332.5 L381.2,331.4 L381.7,331.6 L382.2,331.9 L382.7,332.1 L383.5,335.0 L384.0,335.9 L384.6,336.3 L385.1,336.7 L385.6,335.6 L386.1,336.0 L386.9,333.9 L387.6,337.7 L388.2,338.0 L389.0,338.7 L389.5,341.4 L390.0,341.3 L390.5,341.2 L391.0,341.1 L391.5,336.0 L392.0,335.9 L392.5,336.2 L393.0,336.6 L393.7,339.0 L394.3,339.5 L394.8,340.9 L395.3,341.2 L395.8,341.6 L396.3,341.6 L396.8,340.8 L397.3,340.6 L397.8,340.3 L398.3,340.1 L399.0,337.6 L399.6,337.3 L400.1,337.2 L400.6,337.3 L401.4,335.2 L401.9,335.1 L402.4,335.2 L402.9,335.3 L403.5,335.4 L404.0,335.6 L404.5,338.2 L405.1,338.3 L405.6,338.5 L406.1,337.4 L406.6,337.5 L407.3,339.9 L407.9,340.1 L408.4,337.2 L408.9,336.8 L409.6,337.2 L410.2,336.7 L410.7,336.6 L411.2,336.2 L411.9,337.1 L412.5,336.5 L413.3,336.3 L414.0,337.6 L414.6,337.0 L415.1,337.2 L415.7,336.6 L416.2,335.8 L416.7,331.0 L417.2,329.7 L417.7,328.4 L418.2,327.0 L418.7,323.0 L419.2,321.6 L419.7,320.1 L420.2,318.6 L421.0,317.4 L421.7,315.6 L422.3,314.8 L422.8,316.4 L423.3,315.7 L423.8,315.0 L424.3,314.2 L425.1,310.7 L425.8,310.3 L426.4,309.0 L426.9,306.5 L427.5,305.1 L428.0,303.7 L428.5,304.7 L429.0,303.4 L429.5,302.1 L430.0,300.7 L430.7,300.7 L431.3,301.2 L431.8,300.7 L432.4,301.1 L432.9,301.5 L433.6,296.6 L434.2,296.4 L434.9,299.7 L435.5,299.5 L436.0,298.5 L436.5,300.0 L437.3,306.9 L437.8,307.9 L438.4,309.5 L438.9,311.1 L439.6,314.8 L440.2,316.6 L440.9,315.0 L441.5,316.7 L442.0,320.0 L442.5,319.9 L443.0,319.7 L443.5,319.5 L444.0,317.9 L444.5,317.7 L445.0,317.5 L445.5,318.7 L446.0,320.0 L446.6,321.3 L447.1,322.5 L447.6,321.1 L448.1,322.1 L448.6,322.6 L449.1,323.1 L449.6,326.2 L450.2,326.7 L450.7,327.2 L451.2,324.2 L451.7,323.5 L452.2,326.4 L452.8,325.7 L453.3,325.0 L453.8,321.8 L454.3,322.8 L455.0,328.4 L455.6,327.0 L456.1,321.4 L456.6,320.0 L457.1,318.7 L457.6,317.4 L458.1,321.7 L458.7,322.2 L459.2,322.7 L459.7,322.0 L460.2,322.5 L460.7,323.0 L461.2,322.8 L461.7,319.1 L462.2,317.9 L462.7,316.7 L463.2,315.6 L463.7,313.0 L464.2,312.5 L464.9,315.5 L465.5,316.2 L466.2,316.4 L466.8,317.0 L467.3,321.3 L467.8,321.8 L468.3,317.3 L468.8,317.8 L469.3,318.3 L469.8,318.8 L470.3,320.9 L470.8,319.8 L471.3,315.4 L471.9,314.1 L472.4,312.9 L472.9,312.2 L473.5,311.9 L474.0,311.7 L474.7,312.1 L475.3,311.9 L475.8,312.3 L476.3,312.8 L476.8,313.6 L477.3,314.4 L477.8,314.3 L478.3,315.2 L479.0,318.5 L479.6,318.2 L480.4,314.6 L481.1,317.3 L481.7,316.9 L482.2,315.4 L482.7,316.4 L483.2,317.4 L483.7,318.4 L484.2,319.5 L484.8,320.6 L485.3,321.4 L485.8,321.3 L486.3,321.8 L486.8,322.3 L487.3,322.8 L487.8,322.7 L488.3,323.2 L489.0,322.6 L489.6,323.3 L490.1,325.1 L490.6,325.6 L491.1,328.3 L491.7,327.9 L492.2,327.6 L493.0,327.0 L493.5,326.1 L494.0,325.8 L494.5,324.1 L495.1,323.9 L495.6,323.7 L496.4,323.6 L496.9,328.3 L497.4,328.6 L497.9,326.8 L498.4,327.3 L498.9,327.8 L499.4,328.3 L499.9,330.8 L500.5,331.1 L501.0,331.5 L501.8,328.2 L502.5,332.8 L503.1,332.9 L503.9,326.3 L504.4,327.0 L505.0,325.4 L505.5,323.8 L506.3,319.9 L507.1,317.9 L507.6,314.7 L508.1,315.0 L508.6,319.3 L509.1,319.7 L509.6,320.0 L510.1,320.5 L510.6,320.9 L511.1,322.2 L511.8,328.2 L512.4,330.0 L512.9,330.9 L513.4,331.4 L513.9,330.4 L514.5,330.7 L515.0,331.1 L515.7,327.4 L516.3,327.3 L517.1,329.6 L517.8,329.3 L518.4,328.7 L518.9,328.6 L519.5,328.1 L520.0,327.6 L520.5,325.7 L521.0,325.2 L521.5,324.7 L522.0,324.2 L522.5,326.0 L523.0,326.1 L523.5,326.3 L524.0,326.5 L524.7,325.4 L525.3,325.2 L526.0,325.4 L526.6,324.8 L527.1,322.8 L527.6,322.3 L528.1,321.9 L528.6,322.1 L529.1,322.9 L529.7,323.1 L530.2,323.3 L531.0,318.4 L531.5,322.3 L532.0,322.2 L532.5,322.0 L533.0,321.8 L533.7,321.4 L534.3,321.1 L534.8,325.2 L535.3,324.9 L536.1,321.3 L536.9,324.3 L537.4,320.1 L538.0,321.5 L538.5,322.9 L539.0,327.6 L539.5,328.9 L540.2,328.7 L540.8,329.2 L541.3,330.2 L541.8,330.6 L542.3,330.5 L542.8,330.0 L543.5,328.2 L544.1,327.5 L544.9,327.4 L545.4,324.3 L545.9,323.7 L546.4,321.7 L547.0,321.0 L547.5,320.3 L548.3,317.6 L548.8,319.6 L549.3,318.6 L549.8,316.2 L550.3,315.2 L550.8,314.2 L551.3,313.5 L551.8,314.5 L552.3,314.0 L552.8,314.9 L553.4,314.3 L553.9,313.8 L554.4,313.2 L554.9,313.6 L555.6,311.1 L556.2,311.6 L556.7,316.8 L557.2,317.0 L558.0,314.8 L558.5,314.2 L559.0,314.0 L559.5,313.9 L560.0,313.7 L560.5,312.5 L561.0,312.8 L561.5,313.2 L562.0,313.5 L562.5,316.2 L563.1,316.5 L563.6,316.3 L564.1,317.7 L564.6,317.5 L565.3,313.1 L565.9,312.9 L566.4,310.7 L567.0,311.0 L567.5,311.4 L568.0,317.9 L568.5,318.3 L569.0,318.6 L569.5,319.1 L570.0,316.1 L570.5,316.6 L571.0,317.1 L571.5,317.6 L572.0,320.9 L572.5,323.4 L573.0,325.9 L573.5,328.4 L574.0,330.2 L574.5,331.5 L575.2,334.0 L575.8,335.7 L576.3,334.6 L576.9,336.0 L577.4,336.8 L578.2,340.1 L578.9,340.2 L579.5,340.9 L580.0,341.4 L580.5,340.4 L581.0,339.4 L581.5,338.4 L582.0,335.5 L582.6,334.4 L583.1,333.6 L583.6,333.0 L584.2,333.3 L584.7,333.7 L585.2,332.8 L585.8,333.1 L586.3,333.8 L586.8,339.0 L587.3,339.8 L587.8,340.7 L588.3,341.5 L588.8,343.6 L589.3,344.1 L589.8,340.9 L590.3,341.0 L590.8,341.2 L591.3,341.4 L592.0,339.0 L592.6,338.2 L593.1,342.2 L593.7,341.5 L594.2,340.8 L594.7,333.6 L595.2,333.1 L595.7,337.1 L596.2,336.8 L596.9,335.2 L597.5,334.8 L598.0,338.1 L598.5,338.6 L599.0,339.1 L599.5,339.6 L600.2,338.3 L600.8,339.0 L601.3,336.6 L601.8,336.3 L602.6,334.3 L603.3,337.8 L603.9,337.4 L604.4,337.2 L605.0,337.1 L605.5,336.9 L606.2,338.9 L606.8,338.7 L607.3,339.4 L607.8,339.7 L608.3,340.0 L608.8,340.4 L609.6,339.7 L610.4,337.8 L610.9,342.1 L611.5,341.4 L612.0,340.7 L612.5,334.3 L613.0,333.6 L613.5,333.3 L614.0,333.0 L614.5,336.7 L615.0,336.4 L615.8,333.3 L616.3,331.3 L616.9,330.2 L617.4,330.2 L617.9,330.8 L618.5,331.2 L619.0,331.6 L619.5,332.7 L620.0,333.1 L620.5,333.4 L621.0,333.7 L621.5,332.7 L622.0,333.0 L622.5,333.4 L623.0,333.7 L623.7,335.5 L624.3,334.7 L624.8,333.2 L625.4,332.5 L625.9,331.8 L626.4,332.9 L626.9,333.1 L627.7,329.8 L628.2,331.6 L628.8,331.8 L629.3,332.0 L630.1,327.8 L630.6,333.3 L631.1,333.4 L631.6,333.6 L632.1,333.8 L632.6,336.9 L633.1,337.4 L633.6,337.9 L634.1,338.4 L634.6,335.4 L635.1,336.0 L635.6,338.2 L636.2,338.9 L636.7,339.6 L637.2,339.6 L637.8,340.3 L638.3,340.4 L638.8,338.2 L639.4,337.9 L639.9,337.6 L640.4,341.7 L640.9,341.4 L641.4,338.9 L641.9,338.7 L642.4,338.1 L642.9,337.5 L643.6,336.4 L644.2,335.6 L644.7,334.3 L645.2,333.6 L645.7,333.0 L646.2,332.8 L646.7,334.7 L647.2,335.0 L647.9,331.2 L648.5,331.7 L649.2,336.7 L649.8,337.8 L650.3,335.8 L650.9,336.7 L651.4,337.6 L651.9,340.8 L652.4,341.2 L652.9,338.6 L653.4,338.9 L653.9,339.1 L654.4,339.4 L654.9,339.9 L655.4,340.1 L655.9,340.4 L656.4,340.3 L657.1,340.5 L657.7,340.3 L658.2,342.3 L658.7,342.1 L659.2,342.0 L659.7,341.8 L660.2,340.0 L660.7,339.9 L661.2,339.7 L661.7,339.5 L662.5,340.6 L663.0,333.8 L663.6,333.3 L664.1,332.9 L664.6,337.8 L665.1,337.4 L665.6,338.4 L666.2,338.0 L666.7,337.6 L667.5,337.0 L668.0,333.0 L668.6,332.7 L669.1,332.5 L669.6,335.9 L670.1,335.7 L670.6,335.4 L671.1,335.2 L671.6,333.0 L672.1,332.9 L672.6,333.0 L673.1,333.2 L673.8,334.3 L674.4,334.5 L674.9,331.4 L675.5,331.0 L676.0,330.4 L676.5,334.7 L677.1,334.1 L677.6,333.6 L678.1,329.7 L678.7,329.3 L679.2,329.0 L680.0,330.0 L680.5,330.0 L681.0,329.7 L681.5,332.7 L682.0,332.5 L682.5,332.3 L683.0,332.2 L683.7,329.5 L684.3,329.6 L685.0,329.7 L685.6,330.1 L686.1,327.5 L686.6,327.8 L687.1,328.2 L687.6,328.7 L688.3,328.1 L688.9,328.8 L689.4,331.4 L689.9,331.9 L690.6,335.8 L691.2,336.0 L691.7,332.1 L692.2,332.3 L692.7,335.7 L693.2,336.0 L694.0,337.8 L694.7,339.6 L695.3,340.4 L695.8,339.3 L696.4,340.0 L696.9,340.7 L697.6,343.8 L698.2,344.7 L698.7,340.2 L699.2,340.4 L699.7,339.9 L700.2,339.4 L700.7,338.5 L701.2,338.0 L701.7,337.5 L702.2,337.3 L702.9,334.4 L703.5,334.8 L704.0,340.9 L704.6,341.2 L705.1,341.6 L705.9,340.6 L706.4,345.4 L707.0,345.7 L707.5,346.1 L708.0,342.5 L708.5,342.0 L709.0,343.5 L709.5,343.0 L710.0,340.7 L710.5,340.2 L711.0,341.9 L711.5,341.8 L712.0,341.6 L712.5,341.4 L713.0,339.4 L713.5,339.2 L714.0,339.1 L714.5,338.9 L715.3,341.3 L716.1,338.6 L716.9,335.8 L717.4,333.1 L718.0,332.7 L718.5,332.4 L719.0,334.4 L719.5,334.0 L720.0,333.5 L720.6,333.3 L721.1,333.1 L721.8,333.7 L722.4,333.5 L722.9,331.6 L723.4,331.3 L723.9,332.1 L724.5,331.7 L725.0,331.4 L725.5,332.1 L726.0,331.8 L726.5,332.2 L727.1,331.9 L727.6,331.5 L728.3,330.3 L728.9,329.9 L729.4,331.2 L729.9,330.5 L730.4,329.9 L730.9,329.2 L731.4,328.8 L731.9,328.1 L732.4,327.0 L732.9,326.2 L733.7,322.2 L734.4,323.5 L735.0,322.4 L735.5,320.2 L736.1,319.3 L736.6,318.4 L737.3,316.9 L737.9,315.8 L738.7,312.5 L739.2,316.2 L739.7,315.6 L740.2,314.9 L740.7,314.2 L741.2,311.5 L741.7,311.3 L742.2,312.3 L742.8,312.0 L743.3,310.7 L744.0,303.5 L744.6,300.9 L745.1,304.8 L745.6,302.8 L746.1,300.9 L746.6,300.5 L747.1,300.2 L747.6,299.9 L748.4,299.9 L748.9,298.8 L749.5,298.0 L750.0,297.1 L750.5,299.5 L751.0,298.6 L751.5,297.8 L752.0,297.0 L752.8,288.6 L753.3,290.1 L753.9,287.9 L754.4,286.0 L754.9,283.0 L755.4,281.2 L755.9,278.9 L756.4,275.6 L756.9,270.6 L757.4,267.0 L757.9,266.9 L758.4,267.7 L759.2,270.4 L759.7,270.1 L760.2,270.8 L761.0,272.5 L761.5,268.1 L762.0,268.7 L762.5,271.0 L763.0,270.4 L763.5,269.8 L764.0,269.2 L764.5,266.6 L765.0,266.0 L765.5,265.3 L766.0,264.6 L766.8,266.6 L767.6,266.1 L768.1,265.7 L768.7,265.6 L769.2,265.5 L770.0,262.7 L770.7,268.1 L771.3,268.2 L772.1,264.9 L772.8,266.8 L773.4,267.3 L774.2,264.1 L774.7,271.2 L775.3,272.6 L775.8,274.7 L776.3,276.7 L776.9,276.2 L777.4,275.6 L777.9,273.4 L778.4,272.5 L778.9,271.5 L779.4,270.5 L779.9,265.9 L780.5,264.8 L781.0,263.7 L781.5,264.9 L782.1,263.8 L782.6,262.7 L783.1,259.8 L783.7,259.8 L784.2,259.8 L784.9,259.9 L785.5,259.9 L786.0,257.4 L786.6,258.5 L787.1,259.6 L787.6,266.8 L788.1,267.8 L788.6,262.9 L789.1,263.8 L789.6,272.1 L790.2,272.8 L790.7,273.5 L791.4,269.8 L792.0,270.7 L792.8,274.2 L793.4,272.3 L794.1,272.0 L794.6,273.6 L795.1,273.4 L795.6,273.1 L796.1,273.2 L796.9,272.2 L797.7,277.2 L798.2,277.3 L798.7,278.6 L799.2,279.8 L799.7,281.1 L800.3,286.1 L801.0,287.1 L801.5,286.9 L802.0,287.8 L802.5,287.2 L803.0,288.0 L803.5,284.1 L804.0,284.9 L804.5,289.2 L805.0,290.0 L805.5,290.7 L806.1,291.6 L806.6,292.3 L807.2,296.7 L807.9,297.6 L808.5,296.5 L809.2,297.3 L809.7,300.3 L810.3,301.0 L810.8,301.8 L811.6,297.1 L812.1,300.4 L812.7,300.4 L813.2,300.4 L813.7,296.2 L814.3,296.2 L814.8,296.2 L815.3,300.1 L815.8,300.1 L816.3,298.3 L816.8,298.0 L817.3,297.6 L817.8,297.3 L818.4,303.5 L819.1,302.9 L819.6,296.4 L820.1,295.4 L820.6,294.4 L821.1,293.4 L821.6,293.8 L822.1,292.8 L822.9,291.2 L823.4,289.4 L824.0,288.0 L824.5,286.7 L825.0,281.3 L825.6,280.0 L826.1,278.6 L826.6,276.2 L827.1,274.9 L827.6,270.7 L828.2,269.4 L828.7,268.1 L829.3,273.5 L830.0,271.9 L830.6,269.8 L831.3,268.5 L831.9,271.4 L832.6,270.1 L833.1,266.8 L833.7,265.7 L834.2,264.7 L834.7,265.3 L835.3,264.4 L835.8,263.4 L836.3,252.5 L836.8,251.7 L837.3,250.8 L837.8,249.9 L838.6,253.5 L839.1,254.6 L839.7,253.9 L840.2,253.2 L840.9,249.2 L841.6,248.3 L842.2,250.7 L842.7,250.7 L843.3,250.7 L843.8,256.8 L844.4,256.8 L845.0,249.1 L845.5,249.1 L846.1,249.1 L846.7,253.9 L847.2,253.5 L847.8,253.1 L848.3,251.8 L848.8,251.4 L849.3,251.1 L849.8,250.7 L850.5,252.2 L851.2,250.6 L851.8,247.4 L852.3,246.1 L852.9,244.8 L853.5,244.4 L854.0,242.1 L854.6,241.0 L855.3,240.9 L856.0,246.0 L856.5,252.5 L857.0,253.7 L857.5,255.0 L858.0,256.2 L858.6,247.4 L859.1,248.9 L859.7,250.3 L860.2,258.6 L860.7,259.5 L861.2,260.4 L861.7,261.2 L862.4,259.4 L863.1,260.6 L863.6,265.5 L864.1,266.4 L864.6,267.1 L865.1,267.9 L865.6,266.4 L866.1,267.1 L866.6,267.9 L867.1,268.6 L867.8,272.0 L868.5,272.8 L869.0,269.3 L869.6,269.9 L870.2,274.3 L870.7,274.9 L871.3,275.5 L871.8,272.5 L872.3,272.5 L872.8,272.3 L873.3,272.0 L873.9,276.2 L874.4,275.9 L875.0,275.6 L875.7,264.4 L876.4,265.2 L877.1,278.8 L877.8,280.5 L878.3,277.8 L878.9,276.9 L879.5,277.5 L880.0,275.7 L880.6,273.9 L881.1,267.4 L881.7,265.6 L882.3,268.6 L882.8,270.1 L883.4,271.6 L883.9,265.9 L884.4,267.3 L884.9,268.6 L885.4,268.2 L886.1,273.3 L886.8,272.2 L887.4,269.8 L887.9,268.9 L888.5,267.8 L889.2,269.9 L889.9,268.5 L890.5,262.7 L891.0,261.6 L891.6,260.8 L892.3,263.6 L893.0,262.7 L893.5,255.2 L894.0,254.5 L894.5,254.2 L895.0,253.8 L895.7,257.3 L896.4,256.8 L897.0,252.0 L897.5,251.8 L898.1,259.1 L898.6,259.0 L899.2,258.8 L899.8,254.4 L900.3,254.1 L900.9,253.7 L901.5,256.2 L902.0,255.8 L902.7,251.0 L903.4,251.0 L903.9,256.0 L904.4,256.1 L904.9,256.3 L905.4,256.5 L906.0,250.5 L906.5,250.9 L907.1,251.3 L907.6,256.6 L908.1,256.9 L908.6,257.2 L909.1,257.6 L909.7,252.1 L910.2,252.5 L910.8,258.9 L911.3,259.3 L911.7,250.5 L912.0,250.7"/>
<path class="s" stroke="#0bde70" d="M114.0,304.0 L114.5,305.6 L115.1,306.6 L115.6,307.7 L116.1,309.2 L116.7,310.3 L117.2,310.8 L117.7,308.4 L118.2,307.9 L118.7,307.4 L119.2,305.5 L120.0,302.6 L120.5,299.2 L121.1,299.2 L121.6,299.2 L122.2,301.3 L122.9,301.3 L123.4,301.0 L123.9,301.0 L124.7,303.1 L125.2,299.6 L125.8,299.4 L126.3,299.3 L126.9,298.5 L127.6,298.3 L128.1,296.2 L128.6,295.4 L129.2,296.6 L129.9,295.6 L130.7,298.5 L131.3,300.9 L132.0,303.5 L132.5,301.5 L133.0,300.5 L133.5,300.5 L134.0,299.5 L134.5,301.2 L135.0,303.0 L135.5,301.3 L136.0,303.1 L136.5,304.8 L137.0,305.3 L137.5,305.8 L138.0,306.3 L138.5,298.1 L139.0,294.4 L139.5,297.9 L140.0,294.1 L140.5,287.7 L141.0,283.2 L141.5,283.7 L142.0,284.2 L142.5,286.0 L143.0,286.5 L143.7,288.1 L144.3,290.3 L144.8,293.2 L145.4,293.0 L145.9,291.9 L146.4,290.8 L146.9,289.8 L147.4,291.6 L147.9,289.6 L148.4,283.8 L149.0,281.6 L149.5,279.5 L150.3,274.3 L150.8,273.6 L151.4,261.2 L151.9,244.2 L152.4,238.6 L152.9,235.6 L153.4,232.6 L153.9,229.6 L154.7,228.4 L155.4,237.0 L156.0,239.6 L156.5,241.0 L157.1,244.2 L157.6,247.4 L158.1,251.4 L158.6,250.7 L159.1,250.0 L159.6,249.4 L160.1,245.2 L160.7,244.5 L161.2,243.7 L161.7,244.3 L162.3,243.2 L162.8,242.1 L163.3,241.0 L163.8,240.0 L164.3,240.5 L164.8,241.2 L165.3,241.8 L165.8,242.5 L166.3,240.1 L166.9,240.8 L167.4,240.3 L167.9,241.5 L168.4,240.6 L168.9,239.1 L169.4,238.3 L169.9,237.6 L170.4,238.6 L170.9,240.1 L171.4,241.6 L171.9,246.9 L172.4,248.4 L172.9,249.9 L173.4,250.5 L174.1,249.1 L174.7,249.6 L175.2,247.5 L175.8,247.8 L176.3,247.7 L176.8,250.5 L177.3,250.0 L177.8,247.9 L178.3,247.4 L178.8,246.9 L179.3,247.8 L179.8,251.4 L180.3,253.2 L180.8,253.5 L181.3,255.1 L181.8,256.6 L182.3,258.1 L183.0,260.4 L183.6,263.0 L184.1,264.1 L184.6,266.1 L185.1,268.1 L185.6,270.1 L186.1,273.6 L186.7,274.6 L187.2,275.7 L187.7,275.8 L188.2,276.1 L188.7,275.5 L189.2,274.8 L189.7,278.1 L190.2,277.5 L190.9,273.6 L191.5,274.4 L192.0,276.4 L192.5,277.4 L193.0,273.9 L193.5,274.9 L194.0,275.9 L194.5,276.6 L195.3,279.6 L195.8,277.6 L196.4,278.3 L196.9,279.0 L197.4,281.6 L197.9,281.3 L198.4,281.0 L198.9,280.6 L199.4,279.4 L200.0,279.1 L200.5,279.9 L201.2,283.1 L201.8,284.2 L202.3,281.6 L202.8,282.5 L203.3,284.2 L203.9,283.7 L204.4,283.2 L204.9,282.1 L205.5,281.6 L206.0,281.1 L206.8,283.6 L207.3,281.8 L207.8,282.3 L208.5,284.4 L209.1,284.9 L209.6,281.5 L210.1,281.4 L210.8,285.7 L211.4,285.4 L212.2,281.6 L212.9,284.7 L213.5,285.5 L214.0,285.2 L214.6,285.9 L215.1,286.4 L215.6,287.3 L216.2,286.9 L216.7,286.6 L217.4,285.7 L218.0,285.3 L218.8,286.4 L219.3,287.4 L219.9,288.2 L220.4,288.9 L221.2,291.9 L222.0,289.5 L222.8,290.2 L223.6,290.1 L224.1,289.4 L224.6,290.3 L225.1,291.1 L225.6,291.9 L226.1,292.4 L226.6,293.3 L227.4,293.6 L228.2,296.8 L228.9,298.6 L229.5,299.9 L230.3,301.1 L230.8,299.6 L231.4,299.3 L231.9,298.9 L232.4,298.7 L233.0,298.3 L233.5,298.0 L234.3,300.0 L235.1,295.2 L235.9,296.6 L236.4,291.4 L236.9,290.1 L237.4,290.1 L238.0,288.7 L238.5,287.3 L239.0,288.0 L239.5,287.6 L240.0,287.3 L240.5,287.0 L241.2,284.2 L241.8,283.7 L242.3,286.0 L242.8,287.0 L243.3,288.0 L243.8,289.0 L244.3,290.0 L244.8,291.0 L245.6,288.2 L246.1,293.7 L246.7,294.0 L247.2,294.4 L247.9,293.3 L248.5,294.2 L249.0,295.2 L249.6,296.1 L250.1,297.0 L250.6,295.8 L251.1,296.7 L251.8,300.1 L252.4,301.4 L253.1,302.5 L253.7,303.8 L254.2,307.7 L254.8,308.8 L255.3,309.8 L256.0,310.0 L256.6,311.3 L257.1,311.9 L257.6,312.9 L258.3,312.5 L258.9,313.8 L259.4,313.9 L259.9,314.9 L260.7,314.2 L261.5,315.9 L262.0,313.2 L262.6,312.5 L263.1,311.8 L263.6,311.4 L264.1,310.7 L264.6,310.0 L265.1,309.4 L265.6,307.4 L266.1,306.5 L266.9,306.2 L267.7,299.7 L268.2,299.3 L268.8,296.6 L269.3,293.9 L270.0,289.3 L270.6,287.3 L271.1,289.0 L271.7,287.4 L272.2,286.8 L272.7,284.6 L273.2,285.6 L273.7,286.7 L274.3,287.8 L274.8,288.9 L275.3,288.1 L275.8,289.1 L276.3,292.3 L276.8,290.9 L277.3,289.6 L277.8,288.3 L278.3,287.2 L278.8,285.9 L279.3,287.1 L279.8,286.2 L280.3,285.4 L280.8,284.6 L281.6,280.8 L282.1,283.4 L282.6,286.2 L283.1,288.9 L283.6,291.7 L284.4,292.7 L285.1,295.5 L285.7,298.1 L286.2,299.7 L286.7,300.7 L287.5,304.9 L288.3,303.8 L289.0,307.2 L289.6,309.8 L290.1,310.2 L290.6,311.5 L291.4,314.1 L291.9,314.8 L292.5,316.2 L293.0,317.6 L293.8,321.2 L294.5,322.0 L295.1,323.3 L295.6,325.8 L296.1,326.6 L296.9,321.1 L297.7,325.5 L298.2,323.3 L298.8,321.2 L299.3,319.0 L299.8,319.6 L300.4,319.7 L300.9,320.7 L301.4,319.2 L301.9,320.2 L302.4,321.2 L302.9,322.2 L303.7,326.1 L304.2,324.7 L304.8,326.1 L305.3,327.6 L306.0,331.8 L306.6,332.7 L307.3,330.6 L308.0,331.6 L308.7,335.6 L309.4,335.2 L310.0,330.2 L310.5,329.1 L311.2,330.8 L311.9,329.4 L312.6,325.5 L313.3,324.6 L314.0,329.9 L314.7,329.0 L315.2,326.2 L315.7,324.8 L316.2,323.5 L316.7,322.2 L317.2,320.9 L317.7,319.6 L318.2,318.4 L318.7,317.4 L319.4,314.2 L320.1,312.8 L320.7,314.0 L321.2,312.4 L321.8,310.1 L322.4,300.9 L322.9,298.6 L323.5,296.3 L324.2,299.4 L324.9,296.6 L325.5,295.2 L326.0,297.9 L326.6,307.2 L327.1,309.9 L327.7,312.2 L328.3,305.4 L328.8,307.6 L329.4,309.6 L329.9,317.8 L330.4,319.4 L330.9,321.1 L331.4,322.8 L331.9,319.3 L332.4,320.5 L332.9,321.5 L333.4,322.5 L334.1,328.6 L334.8,330.0 L335.4,320.6 L335.9,319.8 L336.6,325.3 L337.3,324.3 L337.8,316.6 L338.3,316.9 L338.8,317.9 L339.3,318.9 L339.8,327.6 L340.3,328.6 L340.8,329.6 L341.3,329.2 L341.8,324.7 L342.3,323.4 L342.8,322.0 L343.3,320.7 L343.9,325.1 L344.4,325.5 L345.0,322.6 L345.5,323.7 L346.1,327.8 L346.6,328.9 L347.2,329.9 L347.7,323.2 L348.2,323.9 L348.7,324.5 L349.2,325.2 L349.8,335.7 L350.3,336.8 L350.9,338.3 L351.4,333.5 L351.9,334.7 L352.4,333.8 L352.9,332.3 L353.5,333.3 L354.0,331.6 L354.6,329.9 L355.3,322.3 L356.0,323.2 L356.5,333.3 L357.0,334.0 L357.5,334.7 L358.0,335.3 L358.6,327.7 L359.1,324.9 L359.7,325.5 L360.2,322.4 L360.8,319.0 L361.4,307.0 L361.9,303.6 L362.5,301.0 L363.1,307.9 L363.6,305.5 L364.2,300.9 L364.7,303.9 L365.3,315.9 L365.8,318.7 L366.4,321.0 L367.0,316.8 L367.5,319.2 L368.1,321.2 L368.8,329.9 L369.5,330.8 L370.0,325.4 L370.5,326.0 L371.0,326.7 L371.5,327.4 L372.2,331.9 L372.9,332.8 L373.5,329.6 L374.0,330.3 L374.6,331.5 L375.2,334.7 L375.7,335.8 L376.3,336.9 L376.8,333.1 L377.3,332.9 L377.8,331.9 L378.3,330.9 L378.9,338.4 L379.4,337.3 L379.9,328.9 L380.4,327.9 L380.9,326.9 L381.4,325.9 L382.0,330.3 L382.5,329.2 L383.1,328.2 L383.8,324.0 L384.5,323.5 L385.1,324.0 L385.6,323.6 L386.2,323.7 L386.9,320.6 L387.6,322.0 L388.2,328.7 L388.7,329.8 L389.3,325.7 L389.8,326.8 L390.3,334.7 L390.8,335.7 L391.3,336.7 L391.8,337.7 L392.4,334.9 L392.9,334.5 L393.5,334.1 L394.2,336.7 L394.9,336.2 L395.6,333.5 L396.3,334.7 L397.0,339.0 L397.7,340.1 L398.3,333.9 L398.8,333.1 L399.3,336.2 L399.8,335.6 L400.3,334.9 L400.8,334.2 L401.5,331.9 L402.2,332.6 L402.8,339.0 L403.3,339.5 L403.9,340.1 L404.4,335.8 L404.9,335.5 L405.4,335.1 L405.9,334.8 L406.5,336.9 L407.0,336.5 L407.6,333.4 L408.1,334.3 L408.6,341.0 L409.1,341.8 L409.6,342.6 L410.1,343.2 L410.7,336.8 L411.2,336.3 L411.8,341.2 L412.3,340.6 L412.9,340.0 L413.5,333.4 L414.0,332.6 L414.6,331.9 L415.2,337.1 L415.7,336.4 L416.3,335.6 L416.8,331.3 L417.3,330.6 L417.8,329.9 L418.3,329.3 L418.8,332.5 L419.3,332.8 L419.8,333.8 L420.3,334.8 L420.9,331.9 L421.4,333.0 L422.0,334.2 L422.6,340.1 L423.1,339.8 L423.7,334.8 L424.2,334.4 L424.7,333.6 L425.2,333.6 L425.7,333.9 L426.2,334.2 L426.8,332.7 L427.3,333.1 L428.0,338.8 L428.7,335.6 L429.2,330.3 L429.7,328.1 L430.2,327.4 L430.7,329.2 L431.2,331.5 L431.7,333.2 L432.2,335.3 L432.7,337.8 L433.4,339.1 L434.1,342.3 L434.7,346.8 L435.2,347.9 L435.9,346.3 L436.6,347.7 L437.2,351.1 L437.7,350.3 L438.2,344.0 L438.7,343.3 L439.2,342.6 L439.7,342.0 L440.2,348.0 L440.7,349.6 L441.2,351.3 L441.7,353.0 L442.3,350.7 L442.8,352.5 L443.4,357.5 L443.9,358.6 L444.5,359.8 L445.0,356.8 L445.5,357.8 L446.0,358.8 L446.5,357.5 L447.0,359.5 L447.5,358.2 L448.0,356.8 L448.5,355.5 L449.2,349.9 L449.9,350.4 L450.5,356.9 L451.0,357.2 L451.6,357.6 L452.3,355.3 L453.0,353.9 L453.7,356.4 L454.4,355.0 L455.0,348.8 L455.5,348.4 L456.1,350.3 L456.6,349.9 L457.2,349.6 L457.8,344.1 L458.3,344.1 L458.9,349.8 L459.4,350.1 L460.0,350.5 L460.5,348.4 L461.0,348.8 L461.5,350.1 L462.0,351.4 L462.6,355.9 L463.1,357.4 L463.7,353.2 L464.2,353.7 L464.9,355.0 L465.6,353.6 L466.1,351.7 L466.6,350.7 L467.1,349.8 L467.6,349.5 L468.1,354.2 L468.6,353.8 L469.1,353.5 L469.6,353.2 L470.3,349.6 L471.0,349.2 L471.6,350.6 L472.1,350.2 L472.7,348.7 L473.2,348.3 L473.8,347.9 L474.4,350.8 L474.9,350.4 L475.5,350.0 L476.1,348.5 L476.6,347.8 L477.3,348.5 L478.0,347.5 L478.6,342.4 L479.1,341.9 L479.7,341.4 L480.2,341.7 L480.7,343.4 L481.2,343.7 L481.7,344.1 L482.2,344.5 L482.8,348.6 L483.3,349.3 L483.8,347.5 L484.3,348.2 L484.8,348.9 L485.3,349.0 L485.8,348.4 L486.3,348.2 L486.8,348.0 L487.3,347.9 L487.8,346.2 L488.3,346.3 L488.8,346.6 L489.3,347.0 L489.9,349.3 L490.4,349.7 L491.0,350.1 L491.5,344.3 L492.0,343.5 L492.5,342.7 L493.0,341.8 L493.5,343.6 L494.0,342.8 L494.5,343.1 L495.0,343.4 L495.6,340.0 L496.1,340.3 L496.6,346.3 L497.1,346.5 L497.6,346.2 L498.1,345.9 L498.7,342.4 L499.2,342.1 L499.9,345.9 L500.6,344.6 L501.2,340.1 L501.7,338.9 L502.3,337.8 L502.8,338.9 L503.3,337.0 L503.8,334.5 L504.3,332.0 L504.9,327.3 L505.4,324.9 L506.0,322.6 L506.5,326.2 L507.0,324.2 L507.5,325.2 L508.0,326.2 L508.5,321.8 L509.0,322.8 L509.5,325.3 L510.0,327.8 L510.5,331.6 L511.0,334.1 L511.5,335.4 L512.0,336.7 L512.6,337.4 L513.1,338.8 L513.7,342.9 L514.2,344.4 L514.8,345.9 L515.4,347.8 L515.9,349.3 L516.5,350.8 L517.1,354.8 L517.6,353.7 L518.2,346.1 L518.7,344.9 L519.3,343.8 L519.8,344.1 L520.3,343.2 L520.8,342.4 L521.3,341.6 L521.9,337.9 L522.4,337.0 L523.0,338.8 L523.5,339.9 L524.0,340.3 L524.5,341.5 L525.0,342.7 L525.5,343.8 L526.0,351.3 L526.5,351.7 L527.0,352.0 L527.5,352.3 L528.0,348.5 L528.5,348.9 L529.0,349.2 L529.5,348.7 L530.1,346.9 L530.6,346.4 L531.2,339.5 L531.7,338.9 L532.3,339.2 L533.0,347.2 L533.7,348.3 L534.3,346.6 L534.8,347.5 L535.4,348.3 L536.0,349.5 L536.5,350.2 L537.2,351.3 L537.9,352.3 L538.6,353.3 L539.3,351.9 L540.0,344.5 L540.7,343.1 L541.4,350.3 L542.1,349.9 L542.8,348.7 L543.5,348.2 L544.1,351.9 L544.6,351.1 L545.2,350.4 L545.8,345.2 L546.3,344.5 L546.9,344.2 L547.4,343.4 L548.0,342.7 L548.6,339.5 L549.1,338.7 L549.7,338.6 L550.2,337.4 L550.8,335.5 L551.4,327.3 L551.9,325.4 L552.5,323.8 L553.1,328.4 L553.6,328.2 L554.2,328.0 L554.7,324.7 L555.2,325.0 L555.7,326.2 L556.2,327.4 L556.7,333.8 L557.2,335.0 L557.7,336.1 L558.2,336.6 L558.9,329.9 L559.6,329.0 L560.3,333.9 L561.0,333.0 L561.6,328.1 L562.1,327.3 L562.7,326.6 L563.3,332.4 L563.8,331.6 L564.4,330.4 L565.0,323.4 L565.5,321.9 L566.1,320.4 L566.6,324.5 L567.1,323.6 L567.6,324.6 L568.1,325.6 L568.8,320.5 L569.5,319.9 L570.1,323.2 L570.6,322.1 L571.2,321.8 L571.8,320.3 L572.3,321.4 L572.9,326.6 L573.4,327.7 L574.0,324.4 L574.5,325.8 L575.2,335.2 L575.9,337.1 L576.4,331.1 L576.9,332.5 L577.4,332.2 L577.9,331.5 L578.5,335.6 L579.0,334.9 L579.6,327.1 L580.1,325.8 L580.7,323.0 L581.4,327.8 L582.1,324.4 L582.7,315.7 L583.2,313.5 L583.8,311.2 L584.5,315.7 L585.2,317.1 L585.8,313.8 L586.3,315.9 L586.9,318.8 L587.4,327.4 L587.9,329.9 L588.4,330.9 L588.9,331.6 L589.6,324.8 L590.3,325.7 L590.9,333.6 L591.4,333.2 L592.0,332.5 L592.7,325.4 L593.4,324.4 L593.9,329.3 L594.4,329.7 L594.9,330.4 L595.4,331.1 L596.1,325.3 L596.8,326.2 L597.3,330.7 L597.8,331.0 L598.3,331.3 L598.8,331.7 L599.5,327.9 L600.2,327.9 L600.9,331.9 L601.6,331.0 L602.2,325.6 L602.7,324.9 L603.3,331.4 L603.8,331.8 L604.3,325.8 L604.8,326.1 L605.3,326.4 L605.8,326.8 L606.4,330.6 L606.9,329.7 L607.5,328.7 L608.1,323.8 L608.6,322.8 L609.2,322.1 L609.8,326.4 L610.3,326.0 L610.9,321.3 L611.4,320.9 L612.0,325.0 L612.5,325.7 L613.1,326.5 L613.7,319.4 L614.2,320.1 L614.8,320.9 L615.3,327.0 L615.8,326.5 L616.3,326.0 L616.8,325.5 L617.4,323.2 L617.9,323.3 L618.5,323.5 L619.2,330.0 L619.9,330.2 L620.4,325.2 L620.9,326.7 L621.4,328.2 L621.9,329.7 L622.5,339.4 L623.0,341.6 L623.6,338.0 L624.1,340.0 L624.7,341.3 L625.2,346.9 L625.7,348.1 L626.2,349.2 L626.7,350.4 L627.4,342.1 L628.1,339.3 L628.6,343.0 L629.1,341.2 L629.6,340.2 L630.1,339.2 L630.8,331.5 L631.5,332.6 L632.1,339.7 L632.6,341.3 L633.3,340.5 L634.0,342.2 L634.6,344.8 L635.1,346.1 L635.8,344.4 L636.5,343.8 L637.2,347.9 L637.9,346.5 L638.5,339.1 L639.0,338.0 L639.6,338.3 L640.1,335.8 L640.7,333.2 L641.2,325.2 L641.7,323.5 L642.2,321.7 L642.7,320.0 L643.3,328.5 L643.8,327.7 L644.4,322.1 L644.9,321.3 L645.5,320.6 L646.1,326.1 L646.6,325.5 L647.3,319.0 L648.0,318.3 L648.6,326.1 L649.1,326.8 L649.8,320.8 L650.5,321.7 L651.0,327.8 L651.5,328.8 L652.0,329.8 L652.5,330.8 L653.1,326.0 L653.6,327.1 L654.2,328.3 L654.9,334.5 L655.6,336.1 L656.2,331.6 L656.7,332.9 L657.3,336.7 L657.8,337.7 L658.4,335.4 L658.9,336.4 L659.5,337.3 L660.1,346.2 L660.6,345.5 L661.3,337.8 L662.0,336.9 L662.5,342.3 L663.0,341.7 L663.5,340.7 L664.0,339.7 L664.5,330.3 L665.0,329.3 L665.5,328.3 L666.0,327.3 L666.6,331.0 L667.1,329.7 L667.7,328.4 L668.3,321.5 L668.8,320.2 L669.4,320.5 L669.9,330.2 L670.4,331.1 L670.9,331.9 L671.4,332.7 L671.9,324.3 L672.4,323.9 L672.9,323.3 L673.4,322.6 L673.9,330.1 L674.4,329.5 L674.9,328.8 L675.4,328.3 L675.9,317.5 L676.4,317.0 L676.9,316.5 L677.4,316.0 L678.0,324.2 L678.5,323.3 L679.1,322.4 L679.7,321.5 L680.2,320.6 L680.8,319.6 L681.4,322.4 L681.9,322.0 L682.5,311.4 L683.0,311.1 L683.6,320.3 L684.1,319.9 L684.7,313.1 L685.2,312.3 L685.8,311.5 L686.3,313.8 L686.8,313.1 L687.3,313.3 L687.8,313.9 L688.4,306.4 L688.9,307.2 L689.6,315.7 L690.3,315.9 L690.9,312.5 L691.4,312.0 L691.9,313.7 L692.4,313.2 L692.9,312.7 L693.4,313.8 L694.0,311.9 L694.5,313.6 L695.1,315.3 L695.8,323.8 L696.5,325.0 L697.2,320.2 L697.9,321.2 L698.6,328.2 L699.3,326.9 L700.0,317.2 L700.7,313.0 L701.3,317.6 L701.8,318.1 L702.4,318.7 L703.0,314.6 L703.5,315.7 L704.1,321.9 L704.6,323.0 L705.2,324.1 L705.9,317.9 L706.6,318.9 L707.1,325.9 L707.6,326.6 L708.1,327.2 L708.6,327.9 L709.1,324.9 L709.6,325.6 L710.1,326.2 L710.6,326.9 L711.2,332.4 L711.7,333.1 L712.3,327.8 L712.8,327.2 L713.4,326.6 L714.1,331.2 L714.8,330.5 L715.5,323.4 L716.2,324.1 L716.9,331.3 L717.6,332.0 L718.2,329.1 L718.7,328.0 L719.2,333.2 L719.7,332.2 L720.2,331.2 L720.7,330.2 L721.2,323.5 L721.7,322.8 L722.2,322.1 L722.7,321.5 L723.4,326.9 L724.1,326.2 L724.7,320.8 L725.2,321.6 L725.8,327.7 L726.3,328.5 L726.9,321.4 L727.4,321.0 L728.0,320.3 L728.5,324.3 L729.0,323.6 L729.5,322.9 L730.0,322.3 L730.5,317.2 L731.0,316.5 L731.5,315.8 L732.0,315.2 L732.7,319.0 L733.4,317.8 L734.1,312.1 L734.8,310.7 L735.3,314.2 L735.8,313.2 L736.3,312.2 L736.8,311.2 L737.5,306.5 L738.2,305.1 L738.8,307.0 L739.3,306.1 L739.9,305.3 L740.5,299.4 L741.0,298.7 L741.7,302.4 L742.4,302.8 L743.0,298.6 L743.5,299.7 L744.1,300.8 L744.7,306.9 L745.2,307.5 L745.9,300.8 L746.6,300.4 L747.2,304.2 L747.7,303.8 L748.3,303.4 L749.0,298.2 L749.7,297.7 L750.3,303.5 L750.8,303.1 L751.3,297.9 L751.8,297.3 L752.3,296.6 L752.8,295.9 L753.5,301.9 L754.2,300.9 L754.8,295.5 L755.3,294.7 L755.9,294.0 L756.5,298.1 L757.0,297.4 L757.6,297.0 L758.3,291.6 L759.0,291.1 L759.6,296.6 L760.1,296.5 L760.7,290.3 L761.2,291.4 L761.9,297.1 L762.6,296.1 L763.1,290.5 L763.6,289.5 L764.1,288.6 L764.6,288.1 L765.2,290.0 L765.7,289.4 L766.3,290.1 L766.8,286.0 L767.3,287.5 L767.8,289.0 L768.3,290.5 L768.8,299.2 L769.3,300.7 L769.8,302.2 L770.3,303.4 L771.0,303.8 L771.7,305.2 L772.2,309.9 L772.7,309.6 L773.2,309.4 L773.7,309.1 L774.4,300.1 L775.1,297.6 L775.7,301.2 L776.2,298.5 L776.8,291.8 L777.3,288.0 L777.9,290.3 L778.4,286.4 L779.1,270.6 L779.8,265.7 L780.4,269.9 L780.9,269.3 L781.6,264.5 L782.3,265.5 L782.9,276.1 L783.4,278.7 L784.0,282.4 L784.5,277.0 L785.0,280.3 L785.5,281.3 L786.0,282.3 L786.7,289.8 L787.4,291.0 L788.0,283.5 L788.5,284.3 L789.1,295.9 L789.6,297.5 L790.3,293.1 L791.0,295.2 L791.6,301.0 L792.1,302.9 L792.7,300.4 L793.2,301.0 L793.9,308.2 L794.6,305.2 L795.1,290.9 L795.6,286.0 L796.1,281.5 L796.6,278.1 L797.2,284.5 L797.7,285.6 L798.3,283.1 L798.8,284.0 L799.5,288.0 L800.2,288.9 L800.8,282.4 L801.3,282.9 L801.9,288.2 L802.4,288.8 L803.0,289.4 L803.7,286.8 L804.4,287.1 L805.0,288.6 L805.5,288.8 L806.1,287.1 L806.6,286.3 L807.2,285.4 L807.9,291.8 L808.6,290.1 L809.2,284.8 L809.7,283.3 L810.3,282.2 L811.0,282.1 L811.7,281.0 L812.3,278.2 L812.8,277.1 L813.4,278.3 L813.9,277.1 L814.5,274.3 L815.1,273.9 L815.6,270.8 L816.2,269.3 L816.7,265.1 L817.3,256.3 L817.8,252.2 L818.4,249.6 L818.9,248.7 L819.5,247.9 L820.1,242.5 L820.6,243.6 L821.2,244.7 L821.8,251.1 L822.3,253.7 L822.9,256.4 L823.5,253.6 L824.0,255.0 L824.6,256.4 L825.2,263.9 L825.7,264.7 L826.2,259.9 L826.7,260.7 L827.2,260.8 L827.7,260.1 L828.4,261.3 L829.1,260.1 L829.7,258.4 L830.2,256.4 L830.8,265.1 L831.3,262.7 L831.9,250.8 L832.4,248.1 L832.9,250.7 L833.4,247.6 L833.9,243.3 L834.5,239.8 L835.0,236.3 L835.7,232.0 L836.3,228.8 L836.8,223.1 L837.3,217.0 L837.8,208.5 L838.3,197.4 L839.1,176.6 L839.6,160.3 L840.1,148.1 L840.9,128.8 L841.4,120.1 L841.9,157.9 L842.6,190.3 L843.2,193.0 L843.7,195.0 L844.3,195.6 L844.8,196.3 L845.3,195.9 L845.8,196.1 L846.6,191.8 L847.3,200.0 L847.9,199.3 L848.6,197.6 L849.2,196.8 L849.7,193.3 L850.3,192.2 L850.8,190.4 L851.3,191.0 L851.8,187.6 L852.3,178.4 L852.8,172.5 L853.3,165.3 L853.8,158.9 L854.3,152.0 L854.8,151.8 L855.3,157.8 L855.8,168.3 L856.6,183.6 L857.1,189.2 L857.6,193.8 L858.1,197.3 L858.6,204.2 L859.1,215.8 L859.6,221.2 L860.1,220.0 L860.6,222.0 L861.1,224.0 L861.6,226.0 L862.2,232.7 L862.7,234.4 L863.3,236.1 L863.8,237.0 L864.3,238.7 L864.8,240.4 L865.3,242.2 L865.9,244.8 L866.4,246.8 L867.0,248.8 L867.6,245.8 L868.1,247.7 L868.7,249.4 L869.3,265.1 L869.8,266.8 L870.4,269.3 L871.0,262.4 L871.5,265.1 L872.1,273.9 L872.6,279.0 L873.2,281.4 L873.8,271.7 L874.3,269.2 L874.9,273.6 L875.4,271.7 L876.0,270.0 L876.6,256.2 L877.1,255.0 L877.6,266.4 L878.1,266.9 L878.6,267.4 L879.1,267.9 L879.7,262.8 L880.2,263.4 L880.8,263.9 L881.5,267.6 L882.2,266.6 L882.8,259.1 L883.3,258.3 L883.8,263.4 L884.3,262.6 L884.8,261.9 L885.3,261.9 L885.9,256.8 L886.4,257.3 L887.0,257.9 L887.7,268.8 L888.4,270.9 L889.0,270.1 L889.5,272.3 L890.1,274.6 L890.7,280.9 L891.2,282.8 L891.8,275.2 L892.3,276.7 L893.0,283.2 L893.7,278.5 L894.4,262.8 L895.1,260.0 L895.6,268.7 L896.1,266.9 L896.6,265.9 L897.1,264.9 L897.8,256.0 L898.5,257.6 L899.2,264.4 L899.9,267.2 L900.4,256.1 L900.9,257.1 L901.4,258.1 L901.9,259.1 L902.6,273.0 L903.3,271.6 L903.9,261.5 L904.4,261.6 L904.9,271.1 L905.4,271.6 L905.9,272.1 L906.4,274.2 L907.0,263.0 L907.5,265.8 L908.1,284.8 L908.6,287.3 L909.2,279.9 L909.7,281.1 L910.3,287.3 L910.8,286.2 L911.4,274.6 L912.0,273.4"/>
<path class="s" stroke="#122b51" d="M114.0,294.0 L114.7,292.3 L115.3,291.5 L115.8,294.1 L116.3,293.5 L116.8,292.8 L117.3,292.1 L117.8,290.1 L118.3,289.4 L118.8,290.3 L119.3,289.7 L120.1,285.9 L120.6,285.8 L121.1,284.8 L121.6,283.0 L122.2,281.9 L122.7,280.8 L123.2,280.1 L123.8,279.0 L124.3,277.8 L124.9,272.0 L125.6,270.2 L126.1,273.3 L126.6,272.0 L127.1,267.2 L127.6,266.2 L128.1,265.2 L128.6,264.2 L129.1,261.8 L129.7,260.7 L130.2,259.6 L130.8,258.8 L131.5,257.5 L132.0,261.7 L132.5,260.7 L133.1,257.0 L133.8,253.1 L134.6,247.5 L135.1,243.6 L135.6,241.3 L136.1,241.8 L136.6,239.5 L137.1,237.8 L137.6,238.0 L138.4,233.5 L138.9,236.7 L139.4,239.1 L139.9,242.1 L140.4,245.1 L140.9,248.4 L141.5,248.3 L142.0,247.8 L142.8,247.1 L143.6,239.0 L144.1,241.1 L144.6,239.5 L145.4,238.8 L145.9,245.0 L146.4,245.8 L146.9,242.0 L147.4,238.3 L147.9,230.7 L148.5,226.9 L149.0,223.2 L149.7,220.9 L150.4,215.6 L151.0,208.3 L151.5,203.9 L152.1,203.2 L152.6,197.5 L153.2,189.0 L153.7,187.2 L154.3,191.3 L154.8,196.2 L155.4,197.9 L156.1,185.9 L156.8,185.6 L157.3,196.7 L157.8,201.4 L158.3,197.1 L158.8,192.8 L159.4,184.1 L159.9,187.9 L160.4,196.7 L161.0,193.6 L161.6,185.4 L162.1,183.9 L162.7,184.1 L163.3,189.1 L163.8,191.7 L164.4,194.3 L165.0,203.0 L165.5,218.1 L166.1,221.4 L166.6,228.4 L167.1,226.7 L167.6,225.1 L168.1,223.4 L168.6,215.5 L169.2,213.7 L169.8,215.6 L170.3,215.5 L170.9,215.3 L171.5,213.9 L172.0,213.8 L172.6,213.9 L173.3,215.5 L174.0,215.6 L174.6,212.1 L175.1,217.7 L175.7,223.4 L176.4,230.4 L177.1,233.7 L177.6,233.1 L178.1,231.4 L178.6,229.6 L179.1,227.9 L179.7,230.7 L180.2,229.3 L180.8,228.0 L181.5,225.3 L182.2,225.5 L182.9,229.3 L183.6,235.3 L184.2,236.3 L184.7,240.2 L185.3,243.9 L185.8,250.3 L186.3,251.0 L186.8,249.9 L187.3,248.9 L188.0,242.3 L188.7,240.6 L189.3,244.6 L189.8,243.1 L190.4,241.5 L190.9,235.3 L191.4,234.9 L191.9,234.8 L192.4,234.7 L193.0,236.0 L193.5,235.9 L194.1,235.7 L194.7,233.7 L195.2,233.8 L195.8,234.2 L196.3,238.2 L196.8,238.6 L197.3,238.9 L197.8,239.2 L198.3,239.0 L198.8,240.8 L199.3,242.5 L199.8,244.3 L200.5,248.8 L201.2,250.6 L201.7,247.8 L202.2,249.2 L202.7,250.5 L203.2,251.5 L203.9,255.9 L204.6,256.6 L205.2,254.6 L205.7,252.9 L206.3,251.2 L206.8,252.6 L207.3,250.2 L207.8,247.2 L208.3,244.2 L208.8,235.4 L209.3,232.7 L209.8,230.2 L210.3,227.7 L210.9,231.5 L211.4,230.4 L212.0,229.8 L212.7,224.6 L213.4,223.9 L214.1,226.4 L214.8,226.8 L215.3,221.3 L215.8,221.6 L216.3,221.9 L216.8,222.3 L217.5,224.5 L218.2,219.6 L218.7,214.3 L219.2,210.7 L219.7,207.0 L220.2,203.2 L220.7,200.9 L221.2,198.1 L221.7,196.5 L222.2,195.0 L222.7,189.4 L223.2,187.9 L223.7,187.8 L224.2,193.5 L224.8,205.5 L225.3,213.1 L225.9,221.6 L226.4,222.6 L226.9,230.1 L227.4,235.1 L227.9,239.5 L228.4,249.7 L228.9,254.1 L229.4,251.4 L229.9,247.0 L230.5,239.0 L231.0,234.0 L231.6,228.3 L232.1,229.8 L232.7,224.3 L233.3,212.7 L233.8,209.9 L234.4,207.0 L234.9,216.0 L235.5,222.6 L236.2,226.2 L236.9,230.4 L237.4,237.4 L238.0,240.7 L238.7,239.2 L239.4,239.7 L239.9,242.9 L240.5,243.2 L241.1,240.5 L241.6,242.7 L242.2,245.0 L242.7,251.8 L243.2,253.4 L243.7,254.4 L244.2,255.4 L244.9,251.9 L245.6,253.3 L246.1,255.5 L246.6,253.0 L247.1,250.5 L247.6,248.0 L248.3,240.3 L249.0,234.7 L249.7,233.9 L250.4,230.5 L250.9,226.2 L251.4,224.9 L251.9,223.7 L252.4,222.4 L252.9,226.7 L253.5,228.9 L254.2,229.8 L254.9,231.0 L255.4,235.0 L256.0,235.4 L256.5,231.0 L257.0,231.4 L257.5,233.9 L258.0,236.4 L258.5,241.8 L259.0,244.3 L259.5,241.3 L260.0,238.3 L260.5,233.9 L261.0,230.9 L261.5,230.6 L262.0,230.3 L262.5,231.8 L263.1,231.4 L263.6,228.5 L264.2,227.5 L264.7,229.3 L265.2,227.3 L265.7,225.3 L266.2,223.9 L266.7,221.3 L267.3,220.8 L268.0,222.3 L268.7,225.1 L269.2,221.6 L269.8,223.8 L270.4,227.0 L270.9,224.9 L271.5,222.8 L272.1,216.0 L272.6,213.9 L273.2,212.4 L273.7,217.2 L274.3,216.9 L274.8,214.8 L275.3,214.5 L275.8,214.2 L276.3,213.1 L276.8,212.2 L277.3,210.7 L277.8,209.2 L278.3,207.7 L279.0,205.8 L279.7,205.1 L280.2,208.5 L280.7,208.0 L281.2,208.3 L281.7,209.8 L282.2,209.1 L282.8,210.7 L283.4,208.9 L283.9,207.8 L284.5,206.6 L285.0,204.3 L285.6,203.2 L286.3,208.2 L287.0,211.4 L287.5,210.5 L288.1,212.9 L288.6,218.4 L289.2,220.4 L289.8,216.9 L290.3,219.8 L290.9,223.2 L291.4,233.0 L291.9,236.0 L292.4,240.2 L292.9,244.7 L293.5,246.2 L294.0,251.2 L294.6,254.6 L295.3,259.3 L296.0,263.5 L296.5,258.2 L297.1,256.0 L297.7,257.5 L298.2,251.7 L298.8,241.1 L299.3,227.6 L299.8,221.8 L300.3,221.5 L300.8,221.1 L301.5,232.7 L302.2,244.2 L302.7,241.4 L303.2,235.5 L303.7,230.7 L304.2,230.0 L304.8,231.9 L305.3,234.4 L305.9,239.3 L306.4,240.3 L307.0,251.3 L307.5,267.5 L308.1,278.1 L308.6,284.7 L309.2,292.3 L309.7,300.3 L310.3,301.9 L310.8,299.8 L311.6,292.3 L312.4,284.4 L312.9,271.6 L313.4,266.6 L314.2,263.9 L314.7,257.1 L315.2,254.8 L315.7,254.3 L316.2,253.8 L317.0,255.1 L317.5,247.3 L318.0,246.8 L318.5,249.6 L319.0,252.3 L319.5,262.5 L320.1,264.7 L320.6,261.4 L321.1,255.3 L321.7,252.0 L322.2,248.7 L323.0,250.5 L323.7,254.3 L324.3,257.8 L325.1,262.9 L325.8,262.2 L326.4,263.2 L327.1,263.4 L327.7,266.6 L328.2,267.8 L328.7,270.3 L329.2,275.0 L329.8,278.7 L330.3,282.5 L330.8,283.7 L331.4,284.2 L331.9,283.1 L332.4,286.8 L332.9,285.8 L333.4,283.9 L333.9,282.9 L334.4,283.9 L335.0,284.4 L335.5,285.0 L336.0,281.1 L336.5,281.6 L337.0,287.4 L337.6,284.8 L338.1,282.1 L338.8,277.0 L339.4,277.2 L339.9,281.8 L340.5,283.6 L341.0,285.5 L341.5,282.2 L342.0,283.2 L342.5,285.6 L343.0,286.6 L343.5,286.0 L344.1,287.1 L344.6,287.8 L345.1,290.2 L345.7,290.9 L346.2,291.6 L346.7,291.8 L347.2,292.4 L347.7,292.7 L348.2,293.0 L348.7,295.2 L349.2,295.5 L349.7,290.8 L350.3,291.3 L350.8,292.0 L351.5,293.6 L352.1,294.5 L352.8,295.9 L353.4,296.6 L353.9,300.0 L354.4,300.5 L354.9,298.6 L355.4,299.1 L355.9,301.7 L356.5,301.0 L357.0,300.1 L357.8,294.5 L358.3,296.8 L358.8,296.0 L359.3,293.8 L359.8,290.8 L360.3,286.0 L360.9,282.8 L361.4,279.6 L362.1,279.2 L362.7,275.3 L363.5,267.9 L364.3,268.6 L365.0,264.7 L365.6,262.9 L366.1,268.9 L366.6,272.4 L367.1,275.9 L367.6,279.4 L368.1,278.1 L368.6,276.9 L369.1,275.6 L369.6,274.4 L370.3,277.4 L370.9,279.8 L371.6,281.7 L372.2,284.2 L372.7,285.1 L373.3,287.8 L373.8,290.5 L374.3,288.6 L374.9,289.0 L375.4,289.3 L376.1,289.4 L376.7,289.9 L377.5,289.1 L378.0,292.4 L378.5,293.5 L379.0,294.7 L379.5,295.9 L380.3,297.4 L380.8,295.8 L381.3,294.6 L381.8,293.3 L382.3,292.1 L382.8,290.9 L383.3,292.2 L383.8,298.5 L384.3,299.8 L384.8,299.0 L385.4,300.0 L385.9,300.9 L386.4,303.0 L386.9,303.8 L387.7,303.2 L388.2,306.5 L388.8,307.1 L389.3,307.6 L389.8,306.0 L390.3,306.5 L390.8,307.0 L391.3,307.4 L391.8,311.1 L392.3,311.5 L392.8,311.8 L393.3,312.1 L393.8,311.2 L394.3,311.9 L394.8,312.9 L395.3,313.9 L396.1,317.3 L396.6,312.2 L397.1,313.0 L397.6,320.4 L398.2,320.8 L398.7,321.1 L399.2,316.2 L399.7,316.5 L400.2,317.5 L400.7,317.0 L401.2,314.8 L401.8,314.2 L402.3,313.7 L402.8,317.5 L403.4,317.7 L403.9,318.2 L404.6,316.9 L405.2,317.6 L405.7,318.4 L406.2,318.8 L406.7,320.2 L407.3,320.6 L407.8,321.0 L408.5,323.7 L409.1,324.1 L409.8,320.1 L410.4,319.4 L410.9,321.1 L411.4,320.1 L411.9,316.0 L412.4,315.0 L412.9,314.0 L413.4,314.1 L413.9,313.4 L414.5,313.8 L415.0,314.2 L415.7,311.7 L416.3,310.9 L416.8,312.0 L417.3,310.2 L417.8,308.3 L418.3,306.5 L418.8,300.4 L419.3,296.3 L419.8,290.5 L420.3,284.8 L420.8,287.8 L421.3,284.7 L421.8,279.2 L422.4,276.4 L422.9,273.7 L423.4,273.6 L423.9,271.1 L424.4,267.6 L424.9,263.9 L425.6,254.7 L426.2,249.8 L426.7,253.3 L427.2,252.1 L427.7,246.6 L428.2,245.4 L428.7,244.2 L429.2,243.6 L429.7,245.3 L430.2,245.5 L431.0,246.5 L431.8,250.4 L432.3,248.8 L432.9,251.5 L433.4,251.7 L433.9,254.3 L434.5,253.7 L435.0,253.1 L435.7,249.7 L436.3,253.3 L437.1,259.3 L437.6,258.0 L438.1,261.3 L438.6,264.6 L439.1,268.0 L439.6,275.7 L440.1,278.7 L440.6,277.4 L441.2,279.5 L441.7,281.7 L442.2,286.3 L442.7,285.8 L443.2,285.3 L443.7,284.8 L444.2,285.7 L444.7,287.2 L445.2,288.7 L445.7,290.2 L446.4,293.6 L447.0,293.2 L447.5,288.8 L448.1,288.4 L448.6,288.0 L449.1,289.7 L449.7,291.9 L450.2,294.0 L450.7,295.6 L451.2,297.1 L451.7,300.4 L452.2,301.1 L452.7,301.8 L453.2,302.4 L453.7,299.0 L454.2,299.7 L454.7,300.5 L455.2,301.2 L456.0,304.7 L456.5,296.2 L457.1,291.2 L457.6,291.9 L458.4,295.5 L459.2,294.8 L459.7,298.1 L460.2,298.0 L460.7,293.7 L461.3,292.4 L461.8,291.2 L462.3,293.3 L462.8,292.1 L463.3,292.4 L463.8,293.8 L464.3,289.8 L464.8,291.2 L465.3,296.5 L465.9,297.9 L466.4,297.9 L467.2,292.9 L467.7,298.0 L468.2,297.5 L468.7,292.7 L469.2,292.6 L469.9,293.3 L470.5,293.7 L471.0,294.1 L471.5,294.4 L472.0,294.8 L472.5,289.1 L473.0,283.9 L473.5,278.3 L474.0,277.8 L474.5,278.6 L475.3,279.7 L475.8,280.8 L476.3,280.8 L476.8,280.3 L477.3,279.8 L478.1,277.9 L478.9,281.9 L479.7,279.6 L480.2,280.9 L480.7,282.7 L481.2,285.5 L481.7,286.0 L482.2,286.5 L482.7,287.0 L483.2,289.6 L483.7,290.1 L484.2,287.3 L484.7,288.1 L485.4,289.5 L486.0,290.6 L486.8,291.9 L487.3,296.4 L487.8,296.9 L488.3,297.2 L488.9,297.7 L489.4,298.3 L489.9,298.0 L490.4,297.7 L490.9,297.2 L491.4,296.7 L492.2,292.5 L492.7,295.7 L493.2,295.6 L493.7,296.1 L494.2,296.6 L494.7,293.8 L495.3,294.4 L495.8,294.9 L496.3,299.3 L496.9,299.8 L497.4,300.4 L497.9,297.5 L498.4,298.0 L498.9,298.5 L499.4,299.0 L500.1,298.8 L500.7,299.4 L501.2,297.9 L501.8,298.4 L502.3,298.8 L503.1,305.3 L503.6,303.5 L504.1,303.7 L504.6,305.8 L505.1,305.0 L505.6,300.5 L506.1,296.0 L506.6,287.9 L507.1,284.3 L507.8,284.9 L508.4,284.5 L509.2,281.1 L509.7,285.9 L510.3,287.8 L510.8,289.6 L511.6,293.4 L512.1,301.5 L512.7,303.6 L513.2,305.8 L513.9,306.7 L514.5,307.0 L515.2,305.9 L515.8,305.4 L516.3,301.2 L516.9,300.9 L517.4,300.2 L517.9,300.1 L518.4,299.4 L518.9,298.7 L519.4,298.1 L519.9,298.9 L520.4,298.3 L520.9,297.8 L521.4,297.3 L521.9,301.0 L522.4,300.5 L523.2,296.6 L523.7,296.7 L524.2,296.2 L525.0,291.8 L525.5,295.3 L526.0,294.8 L526.5,295.0 L527.0,295.1 L527.5,294.4 L528.0,294.5 L528.5,294.7 L529.0,294.9 L529.5,295.6 L530.0,295.8 L530.5,295.9 L531.0,296.1 L531.5,291.5 L532.0,291.7 L532.5,292.8 L533.0,291.6 L533.5,290.3 L534.0,289.1 L534.5,285.0 L535.1,283.4 L535.6,281.9 L536.4,279.9 L536.9,281.0 L537.4,283.5 L538.1,290.3 L538.7,293.5 L539.2,293.7 L539.7,294.1 L540.2,294.4 L540.7,294.7 L541.5,298.1 L542.0,294.4 L542.5,294.1 L543.0,293.9 L543.5,293.6 L544.0,296.9 L544.5,293.4 L545.0,289.9 L545.5,286.4 L546.0,279.2 L546.5,280.2 L547.2,285.5 L547.8,286.9 L548.3,285.9 L548.8,281.4 L549.3,279.5 L549.9,273.1 L550.4,269.9 L551.1,262.3 L551.7,259.6 L552.2,257.0 L552.7,256.7 L553.2,257.7 L553.7,258.6 L554.2,261.3 L554.7,262.3 L555.5,265.8 L556.2,269.3 L556.8,272.8 L557.3,276.3 L557.8,274.1 L558.3,271.8 L558.8,269.6 L559.3,264.7 L559.9,263.1 L560.4,261.5 L560.9,258.3 L561.5,259.9 L562.0,262.1 L562.5,260.2 L563.0,262.2 L563.7,263.8 L564.3,260.8 L565.0,254.7 L565.6,251.7 L566.4,252.2 L566.9,251.1 L567.5,253.0 L568.0,254.9 L568.5,262.0 L569.1,262.8 L569.6,263.6 L570.1,261.2 L570.6,262.7 L571.1,267.7 L571.6,269.2 L572.3,266.2 L572.9,269.8 L573.6,275.7 L574.2,279.0 L574.7,281.6 L575.2,282.7 L575.7,283.9 L576.2,285.1 L576.7,287.1 L577.2,287.4 L577.7,286.6 L578.2,285.8 L578.9,283.2 L579.5,282.2 L580.3,285.2 L581.1,284.4 L581.9,289.5 L582.4,285.0 L582.9,283.7 L583.4,282.5 L583.9,281.2 L584.4,279.1 L585.0,280.7 L585.5,282.3 L586.0,285.8 L586.5,287.3 L587.0,288.8 L587.5,291.3 L588.0,300.1 L588.5,302.6 L589.0,305.1 L589.5,304.4 L590.0,299.3 L590.5,298.7 L591.0,297.5 L591.5,296.8 L592.0,295.7 L592.5,296.2 L593.0,296.7 L593.5,297.2 L594.2,299.5 L594.8,300.2 L595.6,296.0 L596.3,298.1 L596.9,295.8 L597.7,285.7 L598.2,294.3 L598.7,296.4 L599.2,296.7 L599.7,298.8 L600.2,299.8 L600.7,299.3 L601.5,299.1 L602.3,296.9 L603.1,300.2 L603.6,294.1 L604.1,294.4 L604.6,297.2 L605.2,297.5 L605.7,297.9 L606.2,297.6 L606.7,297.2 L607.2,296.9 L607.7,296.6 L608.4,300.6 L609.0,300.1 L609.5,296.2 L610.0,296.4 L610.5,296.6 L611.0,296.7 L611.7,297.6 L612.3,297.5 L612.8,295.4 L613.4,294.8 L613.9,294.3 L614.6,299.5 L615.2,299.1 L615.9,294.2 L616.5,294.5 L617.0,295.5 L617.6,296.0 L618.1,296.6 L618.6,297.2 L619.1,297.7 L619.6,298.2 L620.1,298.5 L620.8,301.5 L621.4,300.8 L621.9,296.0 L622.4,295.5 L623.2,302.1 L623.7,300.5 L624.3,301.4 L624.8,302.3 L625.3,302.9 L625.9,303.8 L626.4,303.1 L627.1,298.8 L627.7,297.3 L628.4,298.0 L629.0,296.5 L629.8,294.1 L630.5,298.0 L631.1,298.7 L631.6,299.5 L632.1,300.0 L632.6,300.5 L633.1,301.0 L633.8,300.3 L634.4,300.9 L634.9,298.7 L635.5,300.2 L636.0,301.8 L636.5,304.1 L637.1,305.7 L637.6,307.3 L638.1,309.5 L638.6,307.2 L639.1,304.7 L639.6,302.4 L640.4,297.4 L640.9,298.6 L641.4,296.4 L642.0,291.6 L642.7,290.6 L643.2,295.2 L643.8,296.2 L644.3,297.3 L644.8,290.6 L645.3,290.8 L645.8,290.5 L646.3,290.2 L646.8,294.4 L647.3,294.1 L647.8,293.7 L648.3,294.5 L648.8,292.5 L649.3,294.0 L649.8,295.5 L650.3,296.3 L650.9,298.2 L651.6,298.7 L652.1,296.9 L652.7,297.3 L653.2,297.8 L654.0,303.4 L654.5,302.3 L655.0,303.1 L655.5,306.9 L656.0,307.7 L656.5,307.6 L657.0,307.4 L657.6,305.6 L658.3,305.4 L658.8,307.8 L659.3,308.1 L659.8,308.6 L660.3,309.1 L660.8,305.4 L661.3,305.9 L661.9,307.9 L662.6,307.1 L663.1,304.1 L663.7,303.4 L664.2,302.7 L664.7,304.9 L665.2,304.2 L665.8,298.6 L666.5,297.8 L667.1,300.5 L667.8,299.6 L668.3,295.1 L668.8,294.9 L669.3,298.5 L669.9,298.4 L670.4,298.2 L670.9,294.7 L671.4,294.8 L671.9,296.7 L672.5,296.9 L673.0,297.1 L673.6,298.1 L674.3,298.4 L674.9,300.7 L675.6,301.1 L676.4,297.6 L677.0,298.7 L677.7,298.3 L678.2,296.6 L678.7,296.3 L679.2,299.5 L679.8,299.1 L680.3,299.1 L680.9,295.7 L681.6,295.9 L682.4,298.3 L682.9,296.5 L683.4,296.4 L683.9,296.3 L684.4,296.1 L684.9,298.4 L685.4,298.2 L685.9,298.1 L686.4,298.6 L686.9,297.5 L687.4,298.2 L687.9,302.1 L688.5,302.8 L689.0,303.5 L689.8,302.9 L690.3,306.6 L690.9,307.1 L691.4,307.6 L691.9,301.2 L692.5,300.9 L693.0,300.6 L693.5,301.7 L694.0,301.3 L694.5,300.7 L695.0,300.4 L695.5,298.4 L696.0,296.4 L696.5,298.8 L697.0,296.8 L697.5,292.5 L698.1,290.3 L698.6,288.2 L699.2,289.2 L699.9,288.9 L700.4,289.0 L700.9,288.8 L701.4,292.8 L702.0,295.8 L702.5,298.7 L703.1,299.3 L703.8,301.2 L704.3,304.7 L704.9,306.3 L705.4,307.4 L705.9,305.6 L706.4,306.5 L706.9,307.3 L707.4,308.1 L707.9,312.3 L708.5,312.2 L709.0,312.0 L709.5,311.0 L710.1,310.8 L710.6,310.6 L711.2,312.8 L711.9,313.1 L712.7,308.6 L713.5,310.0 L714.0,307.0 L714.6,306.9 L715.1,306.7 L715.7,310.3 L716.4,310.1 L716.9,308.8 L717.4,308.3 L717.9,307.6 L718.4,306.9 L719.0,306.5 L719.7,305.6 L720.5,301.7 L721.0,303.1 L721.5,303.4 L722.0,303.4 L722.5,303.8 L723.0,304.1 L723.5,304.6 L724.1,309.4 L724.8,310.1 L725.6,308.5 L726.1,309.2 L726.6,308.4 L727.2,307.0 L727.9,305.9 L728.4,308.8 L729.0,308.0 L729.5,307.4 L730.0,303.2 L730.5,302.7 L731.0,302.2 L731.5,300.7 L732.0,300.8 L732.5,299.3 L733.0,294.4 L733.6,291.2 L734.1,288.0 L734.9,285.2 L735.4,283.5 L735.9,282.5 L736.4,281.5 L736.9,280.5 L737.4,277.7 L738.0,276.6 L738.5,274.1 L739.0,271.1 L739.5,268.6 L740.0,266.1 L740.5,263.6 L741.0,260.7 L741.6,258.0 L742.1,255.9 L742.7,257.8 L743.4,258.0 L744.2,256.5 L744.7,259.0 L745.2,258.8 L745.7,258.4 L746.3,257.7 L746.8,257.0 L747.6,255.5 L748.1,255.3 L748.7,256.3 L749.2,257.4 L749.7,256.4 L750.2,257.4 L750.7,261.2 L751.2,262.3 L751.7,258.6 L752.2,253.6 L753.0,247.6 L753.8,246.3 L754.3,242.0 L754.8,241.5 L755.3,241.5 L755.9,237.8 L756.4,232.7 L757.0,226.0 L757.7,222.4 L758.2,225.3 L758.7,228.0 L759.2,230.2 L759.7,234.1 L760.2,237.9 L760.7,238.8 L761.2,242.0 L761.8,242.2 L762.3,242.4 L762.8,242.8 L763.3,242.9 L763.8,245.0 L764.3,245.1 L764.8,245.2 L765.3,245.2 L766.1,240.4 L766.6,244.4 L767.1,246.9 L767.6,249.1 L768.1,250.1 L768.6,246.2 L769.2,246.9 L769.7,252.5 L770.2,252.5 L770.7,252.5 L771.2,252.5 L771.8,247.8 L772.3,247.8 L772.9,247.8 L773.6,255.1 L774.3,255.1 L774.8,242.3 L775.4,240.7 L776.0,247.6 L776.5,245.3 L777.1,243.8 L777.6,239.3 L778.1,237.9 L778.6,235.9 L779.1,233.8 L779.9,230.5 L780.7,228.6 L781.2,228.7 L781.7,228.3 L782.2,227.9 L782.7,228.8 L783.3,230.9 L784.0,239.8 L784.5,252.6 L785.1,260.5 L785.6,263.7 L786.2,262.8 L786.9,263.8 L787.7,266.2 L788.2,265.4 L788.7,267.2 L789.2,278.1 L789.8,280.0 L790.3,280.5 L790.8,272.8 L791.3,272.3 L791.8,273.2 L792.4,272.6 L792.9,272.1 L793.4,274.8 L794.0,274.4 L794.5,274.1 L795.0,276.2 L795.6,275.8 L796.1,275.9 L796.6,272.8 L797.2,274.6 L797.7,276.5 L798.2,279.7 L798.7,280.7 L799.2,278.1 L799.7,279.1 L800.2,279.9 L800.7,280.2 L801.5,282.4 L802.0,280.3 L802.6,280.7 L803.1,281.1 L803.6,282.5 L804.2,283.0 L804.7,283.8 L805.5,285.8 L806.0,289.0 L806.6,289.8 L807.1,290.6 L807.7,290.7 L808.4,291.7 L809.0,291.1 L809.7,292.2 L810.2,291.4 L810.7,292.2 L811.2,292.4 L811.7,291.5 L812.2,300.5 L812.7,299.7 L813.2,293.2 L813.7,292.4 L814.2,291.3 L814.7,289.8 L815.3,289.2 L816.0,287.3 L816.6,290.7 L817.3,289.4 L817.8,284.5 L818.4,281.6 L818.9,274.5 L819.5,270.9 L820.0,267.4 L820.5,266.2 L821.0,264.9 L821.5,263.7 L822.0,260.6 L822.6,262.2 L823.1,266.5 L823.6,268.0 L824.1,268.7 L824.6,266.2 L825.2,255.1 L825.7,252.3 L826.3,250.1 L826.9,258.3 L827.4,256.6 L828.0,254.9 L828.5,246.7 L829.1,242.0 L829.6,241.0 L830.2,239.8 L830.8,241.5 L831.3,240.9 L831.9,236.4 L832.4,236.7 L832.9,234.1 L833.4,231.7 L833.9,229.4 L834.4,224.6 L835.0,226.0 L835.6,227.9 L836.1,227.9 L836.7,223.7 L837.2,218.3 L837.8,214.2 L838.4,214.8 L838.9,211.0 L839.5,207.2 L840.0,200.6 L840.5,197.9 L841.0,195.3 L841.5,199.3 L842.0,205.3 L842.6,210.8 L843.1,212.2 L843.7,216.5 L844.4,222.1 L845.1,224.8 L845.6,224.9 L846.1,226.4 L846.6,227.9 L847.1,229.3 L847.6,236.9 L848.2,238.0 L848.9,227.7 L849.6,229.1 L850.1,237.2 L850.7,237.6 L851.3,238.5 L851.8,238.8 L852.4,239.2 L853.1,243.5 L853.8,247.7 L854.4,247.0 L854.9,250.4 L855.5,248.8 L856.2,247.8 L856.9,245.0 L857.4,239.5 L858.0,238.4 L858.7,239.3 L859.4,238.3 L859.9,233.5 L860.5,233.0 L861.0,240.9 L861.5,239.4 L862.0,237.9 L862.5,236.0 L863.1,224.6 L863.6,222.5 L864.2,220.4 L864.9,230.7 L865.8,212.4 L866.5,238.3 L867.2,216.2 L867.7,231.4 L868.3,230.1 L869.0,206.6 L869.7,230.4 L870.4,199.2 L870.9,231.4 L871.5,232.2 L872.4,201.5 L872.9,236.3 L873.5,237.5 L874.2,216.3 L875.1,233.6 L875.8,222.5 L876.5,238.1 L877.0,228.4 L877.6,229.5 L878.1,240.7 L878.7,241.8 L879.3,228.4 L879.8,229.5 L880.4,230.1 L881.0,239.6 L881.5,239.9 L882.1,240.3 L882.6,231.9 L883.2,232.7 L883.8,243.0 L884.3,243.5 L884.9,243.8 L885.5,236.5 L886.0,236.8 L886.5,246.6 L887.0,248.6 L887.5,250.6 L888.0,252.6 L888.5,246.1 L889.0,248.6 L889.5,243.1 L890.0,237.6 L890.5,241.0 L891.1,236.2 L891.6,234.8 L892.2,227.2 L892.9,225.9 L893.5,230.7 L894.2,229.6 L894.7,223.9 L895.2,223.3 L895.7,222.9 L896.2,222.5 L896.7,226.3 L897.2,225.9 L897.7,225.0 L898.2,223.5 L898.8,214.3 L899.3,212.7 L899.9,219.2 L900.4,218.4 L901.0,217.7 L901.7,206.2 L902.4,219.4 L903.0,206.0 L903.5,205.7 L904.4,220.1 L905.3,199.1 L905.8,217.6 L906.3,217.6 L906.8,217.6 L907.3,217.6 L907.9,201.6 L908.4,201.4 L908.9,212.5 L909.4,212.3 L909.9,212.1 L910.4,211.8 L911.0,206.2 L911.5,205.9 L911.8,216.7 L912.0,216.6"/>
<path class="s" stroke="#29a7e3" d="M114.0,298.0 L114.5,299.1 L115.0,299.4 L115.5,299.8 L116.0,300.1 L116.8,304.0 L117.4,301.5 L118.1,300.6 L118.8,300.3 L119.4,299.4 L119.9,295.0 L120.4,294.3 L120.9,294.1 L121.4,293.4 L121.9,292.7 L122.4,292.1 L122.9,292.0 L123.4,291.3 L123.9,290.0 L124.4,289.4 L125.0,289.5 L125.7,288.7 L126.5,286.8 L127.1,283.6 L127.8,283.2 L128.3,284.2 L128.9,283.9 L129.4,283.4 L130.2,282.4 L130.7,284.4 L131.3,283.9 L131.8,283.3 L132.3,284.6 L132.8,284.4 L133.4,284.7 L134.1,284.9 L134.6,285.3 L135.1,287.3 L135.8,290.3 L136.4,292.1 L136.9,290.4 L137.4,291.4 L137.9,292.4 L138.4,293.4 L139.1,295.8 L139.7,297.1 L140.2,298.9 L140.7,299.9 L141.2,300.1 L141.8,301.2 L142.3,302.2 L143.0,302.4 L143.6,303.7 L144.4,309.4 L144.9,306.8 L145.5,306.3 L146.0,305.6 L146.8,307.4 L147.3,304.7 L147.8,304.1 L148.3,305.6 L148.8,302.6 L149.3,299.6 L149.8,296.6 L150.6,293.3 L151.3,292.0 L151.9,291.4 L152.4,289.5 L152.9,289.0 L153.4,289.9 L153.9,291.1 L154.4,294.2 L154.9,295.5 L155.7,292.9 L156.4,291.3 L157.0,290.9 L157.5,293.5 L158.1,293.0 L158.6,291.6 L159.1,292.4 L159.6,291.0 L160.1,289.7 L160.6,288.4 L161.1,284.6 L161.6,284.4 L162.1,284.1 L162.6,283.9 L163.4,285.1 L163.9,287.2 L164.4,288.9 L164.9,290.7 L165.4,292.2 L165.9,292.6 L166.5,294.2 L167.0,295.8 L167.7,296.9 L168.3,297.7 L168.8,296.1 L169.3,296.7 L169.8,294.2 L170.3,294.6 L171.1,297.4 L171.6,300.5 L172.1,300.9 L172.8,303.5 L173.4,304.4 L174.1,307.9 L174.7,309.2 L175.2,307.8 L175.7,308.8 L176.2,304.3 L176.7,303.5 L177.2,302.7 L177.7,301.8 L178.2,305.4 L178.7,304.5 L179.2,304.1 L179.7,304.3 L180.5,302.3 L181.2,302.5 L181.8,302.7 L182.3,303.3 L182.9,302.6 L183.4,301.9 L183.9,299.5 L184.4,298.9 L184.9,298.2 L185.4,297.8 L186.2,295.8 L186.7,299.0 L187.2,298.7 L187.7,298.4 L188.2,298.0 L189.0,294.6 L189.7,294.8 L190.3,294.1 L191.1,290.6 L191.9,293.5 L192.4,292.1 L192.9,292.1 L193.4,292.7 L193.9,293.6 L194.4,297.7 L194.9,298.5 L195.4,299.4 L195.9,300.2 L196.4,296.3 L196.9,297.0 L197.4,297.6 L197.9,298.3 L198.7,300.3 L199.2,300.3 L199.7,300.0 L200.5,302.8 L201.0,302.1 L201.6,301.7 L202.1,301.6 L202.8,303.2 L203.4,303.8 L203.9,303.0 L204.5,303.5 L205.0,304.0 L205.7,304.2 L206.3,304.7 L206.8,302.7 L207.3,303.1 L207.8,303.4 L208.3,303.2 L209.0,305.1 L209.6,304.4 L210.1,302.6 L210.6,302.1 L211.4,306.0 L211.9,304.6 L212.4,304.9 L212.9,308.4 L213.5,308.7 L214.0,309.1 L214.7,306.5 L215.3,306.3 L216.0,308.0 L216.6,307.8 L217.1,306.0 L217.7,306.7 L218.2,307.4 L218.7,309.2 L219.3,309.9 L219.8,310.6 L220.6,312.5 L221.1,312.3 L221.6,313.5 L222.1,314.7 L222.6,315.8 L223.4,316.5 L224.1,319.8 L224.7,321.1 L225.2,323.1 L225.7,324.1 L226.2,320.8 L226.7,321.5 L227.2,322.7 L227.7,323.5 L228.2,325.8 L228.8,324.8 L229.3,323.7 L229.8,321.3 L230.4,320.6 L230.9,320.1 L231.4,320.6 L232.0,320.1 L232.5,320.7 L233.2,318.1 L233.8,319.0 L234.5,324.3 L235.1,325.2 L235.6,323.8 L236.2,324.7 L236.7,325.6 L237.5,327.6 L238.3,326.2 L238.8,331.8 L239.4,332.5 L239.9,333.2 L240.6,332.5 L241.2,332.8 L241.7,326.8 L242.2,325.9 L242.7,326.0 L243.2,325.2 L243.9,326.5 L244.5,326.8 L245.3,326.6 L245.8,330.0 L246.3,330.5 L246.8,331.0 L247.3,331.1 L248.1,331.2 L248.8,330.8 L249.4,330.6 L250.2,329.1 L250.7,327.7 L251.2,328.0 L251.7,329.5 L252.2,329.9 L252.7,328.5 L253.2,328.9 L253.7,329.4 L254.2,329.9 L254.7,332.5 L255.3,333.1 L255.8,333.6 L256.3,333.5 L256.8,334.0 L257.3,334.5 L257.8,335.0 L258.3,334.9 L258.8,335.4 L259.3,335.6 L259.8,335.6 L260.3,338.1 L260.8,338.1 L261.6,336.5 L262.1,338.1 L262.6,337.2 L263.1,336.4 L263.6,335.6 L264.3,331.1 L264.9,330.0 L265.4,330.7 L265.9,329.9 L266.4,329.1 L266.9,328.2 L267.7,325.8 L268.2,324.8 L268.7,323.5 L269.2,323.9 L269.8,322.6 L270.3,322.5 L271.0,327.6 L271.6,328.7 L272.3,324.5 L272.9,325.5 L273.4,326.5 L273.9,325.5 L274.4,324.5 L274.9,323.5 L275.6,319.8 L276.2,319.0 L276.7,321.2 L277.2,321.5 L277.7,320.0 L278.3,320.4 L278.8,320.7 L279.3,321.9 L279.9,323.0 L280.4,324.0 L280.9,325.7 L281.4,326.7 L281.9,327.7 L282.4,327.8 L282.9,328.8 L283.5,328.6 L284.0,328.4 L284.5,328.8 L285.0,328.7 L285.5,329.3 L286.0,330.0 L286.7,329.0 L287.3,329.9 L287.8,325.9 L288.3,325.9 L289.0,327.0 L289.6,326.6 L290.1,329.4 L290.7,329.0 L291.2,329.4 L291.7,334.9 L292.2,336.2 L292.7,337.5 L293.2,338.9 L293.7,337.4 L294.3,338.7 L294.8,339.8 L295.3,340.1 L295.8,341.1 L296.3,342.1 L296.8,343.1 L297.3,343.4 L297.8,344.4 L298.3,345.4 L298.8,346.4 L299.6,351.0 L300.1,347.5 L300.6,347.9 L301.1,351.0 L301.6,351.4 L302.1,353.0 L302.7,353.3 L303.2,353.7 L303.7,354.2 L304.3,354.5 L304.8,354.9 L305.6,353.2 L306.1,356.2 L306.7,355.6 L307.2,355.1 L307.9,353.6 L308.5,353.0 L309.0,352.5 L309.6,352.0 L310.1,351.6 L310.6,349.4 L311.1,349.7 L311.9,350.9 L312.4,349.1 L313.0,349.5 L313.5,348.5 L314.2,350.6 L314.8,349.3 L315.3,348.9 L315.8,347.9 L316.3,346.6 L316.8,347.6 L317.5,347.7 L318.1,349.0 L318.6,351.0 L319.2,351.6 L319.7,351.3 L320.2,353.3 L320.7,353.0 L321.2,353.5 L321.8,353.1 L322.3,353.3 L322.8,355.3 L323.3,355.8 L323.8,356.3 L324.3,356.8 L324.8,355.7 L325.3,355.6 L325.8,355.2 L326.4,354.6 L326.9,354.1 L327.4,353.9 L327.9,353.4 L328.7,351.9 L329.5,354.0 L330.3,350.7 L331.0,353.5 L331.6,354.0 L332.1,352.3 L332.7,352.6 L333.2,353.0 L334.0,354.8 L334.5,354.6 L335.1,353.8 L335.6,353.1 L336.1,353.4 L336.6,352.7 L337.1,352.2 L337.6,352.0 L338.3,353.0 L338.9,352.8 L339.7,351.1 L340.2,347.6 L340.7,348.4 L341.2,349.3 L341.7,350.1 L342.2,353.4 L342.7,354.3 L343.2,354.7 L343.7,354.5 L344.2,354.9 L344.8,354.7 L345.3,354.5 L346.0,356.9 L346.6,356.5 L347.4,355.8 L348.2,354.6 L348.9,351.1 L349.5,350.7 L350.0,351.2 L350.5,350.9 L351.0,350.6 L351.5,350.2 L352.0,349.1 L352.5,348.6 L353.0,348.1 L353.5,347.6 L354.3,347.8 L354.8,347.5 L355.4,347.1 L355.9,346.8 L356.4,346.3 L356.9,345.9 L357.7,342.5 L358.5,348.8 L359.0,350.1 L359.5,350.8 L360.0,353.3 L360.6,354.0 L361.1,354.7 L361.6,352.1 L362.2,352.5 L362.7,352.8 L363.2,356.4 L363.8,356.8 L364.3,357.3 L364.8,355.2 L365.3,355.8 L365.8,357.2 L366.3,357.9 L367.1,356.1 L367.6,356.3 L368.1,357.0 L368.6,357.7 L369.1,358.3 L369.8,359.5 L370.4,360.3 L370.9,362.5 L371.4,363.2 L372.2,364.3 L372.7,366.1 L373.2,366.7 L373.7,367.4 L374.2,368.1 L374.7,366.0 L375.3,366.7 L375.8,367.4 L376.3,369.5 L376.8,370.0 L377.3,369.0 L377.9,369.5 L378.4,370.0 L378.9,370.6 L379.4,369.7 L379.9,368.4 L380.4,367.2 L381.1,369.6 L381.7,368.9 L382.5,366.8 L383.2,365.0 L383.8,364.4 L384.3,365.2 L384.8,365.5 L385.3,365.8 L385.8,366.2 L386.3,364.9 L386.9,365.3 L387.4,365.0 L388.1,364.3 L388.7,363.7 L389.5,363.6 L390.2,363.0 L390.8,361.7 L391.3,357.0 L391.8,356.0 L392.3,355.0 L392.8,354.0 L393.5,354.9 L394.1,355.3 L394.8,357.8 L395.4,358.2 L395.9,358.5 L396.5,359.1 L397.0,359.6 L397.8,359.7 L398.5,361.8 L399.1,362.3 L399.6,361.8 L400.2,361.5 L400.7,361.1 L401.2,360.5 L401.7,360.2 L402.2,359.8 L402.7,359.3 L403.2,355.8 L403.7,355.3 L404.5,354.1 L405.0,353.6 L405.6,353.1 L406.1,352.5 L406.6,353.4 L407.1,352.9 L407.8,353.5 L408.4,353.9 L408.9,356.8 L409.4,357.6 L409.9,358.4 L410.4,359.3 L410.9,354.7 L411.4,353.6 L411.9,355.6 L412.4,354.1 L413.2,352.4 L413.7,355.1 L414.2,354.4 L414.7,353.8 L415.2,353.1 L415.9,349.0 L416.5,348.3 L417.0,347.6 L417.5,347.1 L418.0,346.6 L418.5,347.1 L419.0,346.6 L419.5,347.1 L420.0,348.4 L420.5,348.9 L421.0,345.4 L421.5,345.6 L422.0,347.2 L422.5,347.3 L423.0,347.5 L423.5,347.7 L424.0,344.6 L424.6,345.3 L425.1,346.0 L425.6,352.0 L426.1,352.6 L426.6,355.4 L427.1,356.0 L427.6,355.8 L428.1,356.2 L428.6,356.5 L429.1,356.8 L429.9,356.3 L430.7,356.2 L431.4,351.2 L432.0,350.8 L432.8,349.7 L433.3,350.4 L433.8,351.1 L434.3,351.8 L434.8,352.4 L435.3,356.6 L435.8,357.3 L436.3,357.5 L436.8,357.3 L437.6,355.9 L438.3,355.2 L438.9,355.0 L439.4,355.5 L439.9,355.0 L440.4,358.4 L441.0,357.9 L441.5,357.4 L442.0,354.6 L442.6,353.9 L443.1,353.2 L443.6,353.5 L444.1,352.9 L444.6,351.8 L445.1,351.4 L445.9,350.9 L446.4,352.4 L446.9,353.0 L447.4,353.7 L447.9,354.4 L448.7,350.1 L449.2,349.0 L449.7,348.2 L450.2,347.4 L450.7,346.5 L451.2,350.3 L451.8,349.7 L452.3,349.2 L452.8,346.2 L453.3,345.7 L453.8,346.1 L454.4,346.3 L454.9,346.8 L455.7,343.5 L456.2,347.1 L456.7,346.6 L457.2,346.1 L457.7,345.6 L458.4,344.9 L459.0,345.4 L459.7,346.5 L460.3,346.9 L461.0,344.8 L461.6,343.0 L462.4,341.0 L462.9,337.7 L463.4,336.2 L463.9,334.7 L464.4,335.0 L464.9,338.5 L465.5,339.3 L466.0,340.1 L466.8,336.9 L467.3,341.4 L467.8,342.1 L468.3,342.8 L468.8,343.4 L469.3,341.9 L469.8,342.1 L470.5,342.3 L471.1,342.5 L471.8,340.6 L472.4,341.1 L473.2,342.3 L473.7,345.2 L474.3,345.7 L474.8,346.3 L475.6,348.8 L476.1,344.5 L476.6,344.2 L477.1,345.6 L477.6,345.3 L478.1,345.1 L478.6,345.6 L479.4,345.4 L479.9,349.7 L480.4,350.2 L480.9,350.7 L481.4,351.2 L482.1,347.1 L482.7,347.8 L483.5,352.5 L484.2,349.7 L484.8,350.2 L485.3,352.9 L485.9,353.2 L486.4,353.6 L486.9,352.4 L487.4,352.2 L487.9,351.9 L488.4,351.6 L488.9,351.5 L489.5,351.1 L490.0,350.8 L490.7,350.9 L491.3,351.4 L492.1,352.7 L492.8,353.9 L493.4,353.7 L493.9,352.3 L494.4,351.8 L494.9,351.3 L495.4,350.8 L495.9,350.7 L496.5,350.8 L497.0,351.0 L497.8,353.4 L498.5,349.7 L499.1,349.9 L499.6,350.7 L500.2,350.9 L500.7,351.1 L501.2,353.4 L501.7,353.5 L502.2,353.4 L502.7,352.9 L503.2,353.8 L503.7,353.3 L504.2,351.2 L504.7,350.7 L505.2,350.4 L505.7,350.2 L506.5,352.4 L507.0,350.0 L507.6,349.8 L508.1,349.6 L508.9,348.8 L509.4,347.8 L510.0,347.5 L510.5,347.1 L511.0,348.1 L511.6,348.3 L512.1,348.5 L512.6,348.5 L513.1,348.6 L513.8,351.4 L514.4,351.2 L514.9,346.2 L515.4,345.8 L515.9,348.8 L516.4,348.4 L516.9,348.1 L517.4,348.3 L518.1,346.6 L518.7,347.0 L519.4,351.0 L520.0,351.5 L520.5,347.5 L521.0,347.3 L521.5,347.1 L522.0,347.0 L522.8,348.3 L523.5,346.0 L524.1,346.2 L524.6,346.7 L525.2,346.9 L525.7,347.1 L526.5,347.3 L527.3,347.5 L528.1,347.1 L528.6,345.9 L529.1,345.4 L529.9,344.9 L530.4,343.8 L530.9,343.7 L531.4,343.5 L531.9,343.3 L532.7,345.7 L533.4,347.1 L534.0,347.7 L534.5,345.8 L535.1,346.4 L535.6,346.9 L536.3,347.3 L536.9,347.9 L537.4,346.1 L537.9,346.6 L538.4,346.6 L538.9,346.4 L539.7,349.8 L540.4,347.1 L541.0,346.9 L541.5,352.2 L542.0,352.0 L542.5,351.8 L543.0,351.7 L543.5,351.0 L544.0,350.8 L544.5,351.3 L545.0,351.8 L545.5,353.1 L546.0,353.6 L546.5,353.1 L547.0,353.6 L547.7,355.4 L548.3,355.6 L548.8,353.0 L549.4,353.2 L549.9,353.4 L550.4,352.0 L550.9,352.3 L551.4,352.6 L551.9,353.0 L552.6,354.8 L553.2,355.0 L553.9,354.5 L554.5,354.3 L555.0,353.7 L555.5,353.6 L556.2,355.2 L556.8,355.6 L557.6,351.7 L558.3,356.8 L558.9,357.2 L559.4,356.2 L559.9,356.1 L560.4,355.9 L560.9,355.7 L561.4,361.3 L562.0,361.1 L562.5,361.7 L563.0,353.4 L563.5,354.0 L564.0,354.7 L564.5,355.4 L565.3,360.0 L566.0,359.2 L566.6,358.7 L567.1,357.1 L567.6,356.7 L568.1,356.5 L568.6,356.9 L569.4,358.0 L569.9,357.6 L570.5,358.0 L571.0,358.4 L571.8,357.0 L572.3,360.7 L572.8,361.4 L573.3,360.0 L573.9,360.7 L574.4,361.5 L574.9,363.1 L575.5,363.8 L576.0,364.5 L576.5,364.2 L577.0,364.9 L577.8,363.6 L578.3,365.9 L578.9,366.6 L579.4,367.2 L579.9,368.2 L580.4,366.7 L581.1,363.3 L581.7,361.4 L582.2,359.3 L582.7,359.2 L583.2,359.0 L583.7,358.8 L584.5,356.5 L585.2,358.3 L585.8,359.2 L586.5,362.2 L587.1,363.0 L587.6,366.8 L588.1,367.4 L588.6,367.8 L589.1,368.1 L589.9,366.8 L590.6,367.3 L591.2,367.4 L591.7,364.6 L592.3,363.9 L592.8,363.2 L593.3,361.1 L593.9,360.4 L594.4,359.6 L595.1,359.8 L595.7,358.7 L596.2,360.1 L596.7,359.3 L597.2,357.0 L597.7,357.7 L598.2,362.1 L598.8,362.8 L599.3,363.5 L600.0,362.8 L600.6,363.7 L601.1,366.8 L601.7,367.5 L602.2,368.2 L602.7,363.2 L603.2,363.5 L603.7,365.7 L604.2,365.4 L604.9,361.3 L605.5,360.8 L606.2,364.6 L606.8,365.2 L607.3,362.0 L607.8,362.5 L608.3,367.9 L608.8,368.4 L609.3,368.1 L609.9,367.4 L610.4,366.7 L610.9,365.5 L611.4,364.8 L611.9,364.2 L612.4,364.3 L612.9,362.8 L613.5,363.1 L614.0,363.5 L614.7,365.6 L615.3,364.9 L616.1,361.7 L616.6,359.5 L617.2,358.3 L617.7,358.1 L618.4,358.6 L619.0,358.4 L619.7,359.0 L620.3,358.9 L621.1,356.2 L621.8,359.9 L622.4,360.1 L623.2,360.0 L623.7,363.0 L624.3,363.2 L624.8,363.4 L625.5,358.7 L626.1,358.9 L626.6,361.6 L627.1,361.7 L627.6,359.8 L628.1,359.9 L628.6,360.1 L629.1,360.3 L629.9,363.3 L630.4,362.9 L631.0,363.4 L631.5,363.9 L632.2,364.9 L632.8,365.5 L633.5,363.3 L634.1,364.0 L634.9,368.4 L635.7,365.0 L636.4,367.6 L637.0,368.0 L637.7,368.7 L638.3,368.7 L639.1,369.3 L639.6,365.1 L640.1,364.8 L640.6,368.7 L641.1,368.4 L641.6,366.1 L642.1,365.7 L642.8,367.0 L643.4,366.6 L643.9,364.9 L644.4,365.0 L644.9,365.2 L645.4,365.3 L645.9,370.7 L646.4,370.8 L646.9,371.0 L647.4,370.8 L647.9,368.3 L648.5,367.9 L649.0,367.6 L649.5,367.7 L650.1,367.5 L650.6,367.6 L651.3,364.5 L651.9,364.7 L652.4,367.4 L652.9,367.5 L653.7,366.7 L654.2,365.2 L654.7,365.1 L655.2,362.0 L655.8,361.8 L656.3,361.9 L657.0,363.7 L657.6,364.1 L658.1,366.7 L658.7,367.1 L659.2,367.1 L659.7,366.1 L660.3,365.6 L660.8,365.1 L661.3,361.4 L661.9,360.9 L662.4,360.4 L662.9,362.4 L663.4,361.9 L664.1,356.3 L664.7,355.6 L665.2,358.9 L665.7,358.7 L666.2,357.5 L666.7,357.3 L667.4,359.4 L668.0,359.2 L668.5,356.4 L669.0,355.9 L669.5,359.5 L670.0,359.0 L670.5,353.5 L671.0,353.0 L671.5,353.2 L672.0,353.3 L672.8,357.2 L673.6,354.7 L674.1,357.8 L674.6,357.5 L675.1,357.2 L675.6,356.8 L676.1,354.8 L676.6,354.5 L677.1,354.1 L677.6,353.2 L678.1,350.8 L678.6,349.9 L679.1,352.8 L679.7,351.9 L680.2,351.2 L680.9,348.3 L681.5,347.6 L682.0,345.6 L682.5,345.1 L683.0,344.6 L683.5,344.3 L684.0,345.9 L684.5,345.7 L685.0,345.4 L685.6,346.4 L686.1,347.5 L686.8,352.4 L687.4,353.5 L688.2,351.8 L689.0,354.3 L689.5,354.1 L690.0,354.8 L690.5,355.3 L691.0,355.8 L691.5,357.8 L692.0,358.3 L692.6,359.1 L693.3,359.8 L693.9,360.5 L694.6,361.2 L695.1,358.6 L695.7,359.1 L696.2,360.2 L696.7,364.7 L697.2,366.7 L697.7,368.7 L698.2,370.7 L699.0,371.9 L699.6,371.9 L700.3,371.0 L700.8,368.0 L701.4,367.3 L701.9,366.6 L702.4,369.9 L703.0,370.2 L703.5,370.6 L704.3,370.8 L704.8,370.3 L705.3,371.0 L705.8,372.8 L706.4,373.9 L706.9,374.9 L707.4,376.4 L707.9,375.9 L708.7,375.5 L709.2,374.7 L709.7,374.2 L710.2,373.7 L710.7,373.2 L711.5,368.5 L712.3,369.6 L712.8,370.7 L713.4,370.3 L713.9,369.9 L714.5,368.7 L715.2,368.2 L715.8,365.8 L716.5,365.5 L717.3,365.2 L718.1,365.2 L718.6,361.9 L719.2,361.5 L719.7,360.6 L720.2,360.3 L720.7,359.5 L721.2,358.6 L721.7,357.8 L722.2,359.6 L722.8,358.9 L723.3,358.2 L723.8,357.9 L724.3,357.2 L724.8,357.1 L725.4,356.7 L725.9,356.3 L726.4,352.3 L726.9,352.0 L727.4,351.6 L727.9,351.3 L728.4,354.8 L729.0,354.1 L729.5,353.4 L730.3,349.2 L731.1,349.8 L731.9,346.9 L732.7,348.8 L733.3,347.9 L734.0,347.1 L734.5,348.3 L735.0,348.6 L735.5,348.9 L736.0,349.3 L736.8,348.1 L737.3,349.6 L737.8,349.3 L738.3,349.0 L738.8,348.6 L739.3,346.4 L739.9,346.1 L740.4,345.7 L741.0,347.7 L741.7,347.3 L742.5,344.3 L743.0,344.3 L743.5,343.3 L744.0,342.3 L744.5,341.3 L745.0,339.3 L745.5,338.3 L746.0,339.0 L746.6,338.4 L747.1,337.9 L747.6,335.7 L748.2,335.2 L748.7,334.6 L749.2,334.8 L749.7,334.0 L750.2,333.2 L750.7,332.3 L751.5,328.2 L752.0,330.5 L752.5,329.3 L753.3,324.4 L753.8,327.6 L754.4,326.4 L754.9,325.1 L755.4,323.2 L755.9,322.5 L756.4,323.6 L757.0,322.8 L757.5,322.4 L758.3,317.3 L758.8,320.5 L759.3,320.2 L759.8,315.8 L760.3,315.5 L760.8,315.1 L761.3,314.8 L761.9,319.6 L762.6,319.2 L763.1,317.2 L763.7,315.6 L764.2,314.0 L764.7,313.0 L765.2,311.1 L765.7,308.6 L766.2,306.1 L766.7,299.6 L767.2,296.8 L767.7,293.4 L768.2,290.1 L768.8,294.9 L769.3,291.9 L769.9,288.9 L770.5,284.9 L771.0,286.4 L771.6,288.4 L772.2,294.8 L772.7,297.9 L773.3,299.8 L773.8,300.0 L774.3,299.1 L774.8,296.4 L775.3,293.7 L776.0,286.3 L776.7,275.8 L777.3,263.2 L777.8,252.4 L778.4,248.5 L779.0,256.8 L779.5,256.5 L780.1,256.3 L780.6,247.5 L781.1,247.3 L781.6,247.1 L782.1,247.0 L782.7,249.5 L783.2,248.5 L783.8,246.2 L784.3,241.5 L784.9,239.3 L785.5,240.7 L786.0,240.7 L786.6,240.7 L787.1,240.2 L787.6,245.7 L788.1,251.3 L788.6,257.3 L789.3,270.8 L790.0,284.1 L790.6,271.5 L791.1,265.1 L791.7,258.3 L792.2,259.7 L792.7,257.7 L793.2,255.7 L793.7,253.7 L794.2,245.7 L794.8,246.2 L795.4,249.1 L795.9,249.7 L796.5,251.8 L797.2,250.7 L797.9,253.5 L798.4,259.3 L798.9,261.8 L799.4,264.3 L799.9,266.8 L800.4,263.0 L801.0,265.2 L801.5,273.1 L802.0,275.1 L802.5,277.1 L803.0,279.1 L803.5,279.1 L804.0,281.1 L804.5,281.8 L805.0,282.6 L805.5,288.9 L806.0,289.6 L806.5,288.4 L807.0,287.1 L807.5,284.0 L808.0,282.7 L808.5,279.2 L809.0,275.7 L809.6,279.0 L810.1,275.4 L810.7,273.1 L811.2,262.0 L811.7,262.5 L812.2,263.0 L812.7,263.5 L813.4,272.0 L814.1,273.4 L814.6,268.6 L815.2,269.9 L815.7,274.4 L816.3,276.0 L816.8,271.9 L817.4,273.5 L817.9,282.2 L818.5,283.6 L819.1,281.7 L819.6,283.2 L820.2,285.0 L820.7,289.8 L821.3,292.0 L822.0,291.7 L822.7,292.6 L823.2,299.9 L823.7,299.9 L824.2,298.9 L824.7,297.9 L825.4,289.9 L826.1,286.8 L826.8,285.6 L827.5,282.7 L828.0,272.0 L828.5,270.0 L829.0,268.0 L829.5,266.0 L830.0,274.1 L830.6,271.9 L831.2,262.0 L831.7,259.2 L832.3,256.3 L832.8,259.3 L833.4,257.0 L833.9,250.4 L834.5,248.2 L835.0,251.4 L835.5,248.9 L836.0,246.4 L836.5,243.9 L837.2,235.3 L837.9,231.1 L838.4,234.5 L839.0,231.2 L839.5,214.0 L840.1,207.9 L840.7,219.7 L841.2,217.8 L841.8,219.3 L842.3,217.0 L842.8,221.0 L843.3,225.2 L843.8,229.5 L844.3,238.3 L844.9,242.8 L845.6,243.4 L846.3,240.0 L846.8,233.3 L847.4,220.0 L847.9,202.1 L848.5,194.9 L849.0,193.0 L849.6,192.4 L850.2,185.9 L850.7,188.4 L851.3,191.0 L851.8,201.3 L852.4,205.7 L853.0,198.0 L853.5,203.1 L854.2,220.8 L854.9,227.8 L855.6,220.1 L856.3,221.1 L857.0,236.9 L857.7,236.9 L858.2,227.1 L858.8,227.1 L859.3,239.5 L859.9,243.9 L860.5,232.7 L861.0,237.2 L861.6,241.7 L862.3,253.8 L863.0,243.1 L863.7,267.1 L864.3,237.7 L864.8,237.8 L865.7,263.9 L866.6,234.1 L867.2,268.1 L867.7,268.2 L868.6,232.4 L869.3,269.3 L869.9,239.9 L870.4,239.6 L871.3,265.8 L871.9,243.5 L872.4,243.4 L873.3,272.7 L874.2,243.3 L874.9,270.6 L875.5,243.6 L876.0,243.6 L876.9,254.4 L877.4,242.1 L877.9,241.1 L878.4,240.1 L878.9,239.1 L879.4,256.3 L879.9,255.3 L880.4,255.1 L880.9,255.1 L881.5,242.6 L882.0,242.6 L882.7,247.5 L883.4,245.4 L884.0,232.2 L884.5,231.5 L885.1,246.2 L885.6,245.7 L886.1,231.4 L886.6,231.6 L887.1,231.7 L887.6,231.8 L888.2,246.2 L888.7,246.3 L889.4,234.9 L890.1,235.1 L890.7,246.6 L891.2,246.9 L891.8,247.2 L892.5,234.7 L893.2,235.1 L893.8,247.7 L894.3,249.7 L894.9,240.9 L895.4,244.2 L896.0,255.7 L896.5,260.2 L897.1,264.0 L897.7,256.8 L898.2,257.3 L898.8,257.9 L899.4,271.8 L899.9,272.3 L900.5,272.4 L901.1,257.0 L901.6,257.0 L902.2,267.7 L902.7,267.7 L903.2,257.1 L903.7,257.1 L904.2,257.2 L904.7,257.4 L905.2,272.4 L905.7,272.6 L906.2,272.9 L906.7,273.1 L907.4,261.1 L908.1,261.5 L908.8,277.9 L909.5,278.4 L910.2,264.1 L910.9,264.7 L911.3,272.6 L911.6,272.9 L912.0,273.2"/>
</g>
<line x1="141.2" x2="178.6" y1="559.5" y2="559.5" stroke="#5b6570" stroke-width="2"/>
<text class="lg" x="182" y="565" textLength="35.8" lengthAdjust="spacingAndGlyphs">Corn</text>
<line x1="240.6" x2="278.2" y1="559.5" y2="559.5" stroke="#0f6cbf" stroke-width="2"/>
<text class="lg" x="282.5" y="565" textLength="62.5" lengthAdjust="spacingAndGlyphs">Soybean</text>
<line x1="372.5" x2="409.6" y1="559.5" y2="559.5" stroke="#0bde70" stroke-width="2"/>
<text class="lg" x="413.6" y="565" textLength="48.5" lengthAdjust="spacingAndGlyphs">Wheat</text>
<line x1="487" x2="524.2" y1="559.5" y2="559.5" stroke="#122b51" stroke-width="2"/>
<text class="lg" x="529.2" y="565" textLength="103" lengthAdjust="spacingAndGlyphs">Soybean Meal</text>
<line x1="662.3" x2="699.4" y1="559.5" y2="559.5" stroke="#29a7e3" stroke-width="2"/>
<text class="lg" x="703.8" y="565" textLength="88.5" lengthAdjust="spacingAndGlyphs">Soybean Oil</text>
</svg></body></html>
